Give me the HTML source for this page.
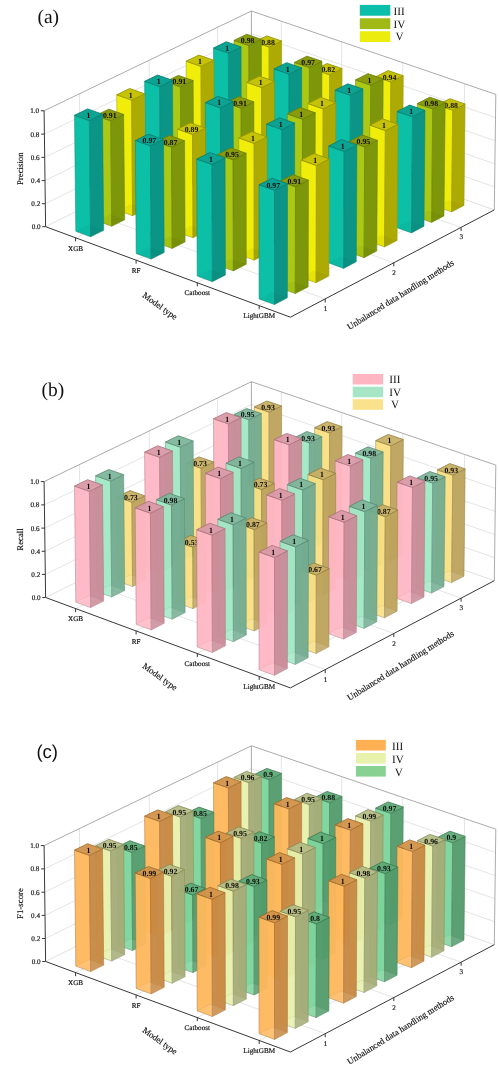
<!DOCTYPE html><html><head><meta charset="utf-8"><title>Figure</title><style>
html,body{margin:0;padding:0;background:#fff}
svg{display:block;will-change:transform}
text{font-family:"Liberation Serif","Times New Roman",serif;fill:#111;text-rendering:geometricPrecision}
.t{font-size:7.15px;stroke:#111;stroke-width:0.18px}.v{font-size:7.8px;font-weight:bold;fill:#0a0a0a}.a{font-size:8.8px;stroke:#111;stroke-width:0.15px}.g{font-size:19.5px;fill:#111}.l{font-size:11.2px}.g2{font-family:"Liberation Sans",Arial,sans-serif;font-size:18.5px;fill:#111}
</style></head><body>
<svg width="498" height="1080" viewBox="0 0 498 1080">
<g id="p0">
<line x1="45.3" y1="203.7" x2="251.5" y2="101.9" stroke="#d8d8d8" stroke-width="0.7"/>
<line x1="251.5" y1="101.9" x2="494.6" y2="186.9" stroke="#d8d8d8" stroke-width="0.7"/>
<line x1="45.0" y1="180.6" x2="251.4" y2="79.2" stroke="#d8d8d8" stroke-width="0.7"/>
<line x1="251.4" y1="79.2" x2="494.9" y2="163.9" stroke="#d8d8d8" stroke-width="0.7"/>
<line x1="44.7" y1="157.4" x2="251.4" y2="56.6" stroke="#d8d8d8" stroke-width="0.7"/>
<line x1="251.4" y1="56.6" x2="495.2" y2="140.8" stroke="#d8d8d8" stroke-width="0.7"/>
<line x1="44.4" y1="134.1" x2="251.4" y2="33.8" stroke="#d8d8d8" stroke-width="0.7"/>
<line x1="251.4" y1="33.8" x2="495.5" y2="117.6" stroke="#d8d8d8" stroke-width="0.7"/>
<line x1="80.7" y1="209.3" x2="79.4" y2="93.8" stroke="#d8d8d8" stroke-width="0.7"/>
<line x1="80.7" y1="209.3" x2="325.2" y2="298.9" stroke="#d8d8d8" stroke-width="0.7"/>
<line x1="150.0" y1="174.9" x2="149.2" y2="60.2" stroke="#d8d8d8" stroke-width="0.7"/>
<line x1="150.0" y1="174.9" x2="393.8" y2="262.8" stroke="#d8d8d8" stroke-width="0.7"/>
<line x1="218.0" y1="141.1" x2="217.6" y2="27.3" stroke="#d8d8d8" stroke-width="0.7"/>
<line x1="218.0" y1="141.1" x2="461.1" y2="227.4" stroke="#d8d8d8" stroke-width="0.7"/>
<line x1="281.2" y1="134.9" x2="281.3" y2="21.2" stroke="#d8d8d8" stroke-width="0.7"/>
<line x1="75.6" y1="237.8" x2="281.2" y2="134.9" stroke="#d8d8d8" stroke-width="0.7"/>
<line x1="341.2" y1="156.0" x2="341.7" y2="41.8" stroke="#d8d8d8" stroke-width="0.7"/>
<line x1="136.1" y1="260.1" x2="341.2" y2="156.0" stroke="#d8d8d8" stroke-width="0.7"/>
<line x1="401.9" y1="177.4" x2="402.8" y2="62.7" stroke="#d8d8d8" stroke-width="0.7"/>
<line x1="197.3" y1="282.7" x2="401.9" y2="177.4" stroke="#d8d8d8" stroke-width="0.7"/>
<line x1="463.3" y1="199.0" x2="464.6" y2="83.7" stroke="#d8d8d8" stroke-width="0.7"/>
<line x1="259.2" y1="305.6" x2="463.3" y2="199.0" stroke="#d8d8d8" stroke-width="0.7"/>
<line x1="45.6" y1="226.7" x2="251.5" y2="124.4" stroke="#d8d8d8" stroke-width="0.8"/>
<line x1="251.5" y1="124.4" x2="494.3" y2="209.9" stroke="#d8d8d8" stroke-width="0.8"/>
<line x1="44.1" y1="110.8" x2="251.4" y2="11.0" stroke="#a2a2a2" stroke-width="0.9"/>
<line x1="251.4" y1="11.0" x2="495.8" y2="94.4" stroke="#a2a2a2" stroke-width="0.9"/>
<line x1="251.5" y1="124.4" x2="251.4" y2="11.0" stroke="#a2a2a2" stroke-width="0.9"/>
<line x1="494.3" y1="209.9" x2="495.8" y2="94.4" stroke="#a2a2a2" stroke-width="0.9"/>
<polyline points="44.1,110.8 45.6,226.7 290.4,317.2 494.3,209.9" fill="none" stroke="#383838" stroke-width="1.0" stroke-linejoin="miter"/>
<line x1="42.3" y1="226.7" x2="45.6" y2="226.7" stroke="#383838" stroke-width="1.0"/>
<text x="40.6" y="229.1" text-anchor="end" class="t">0.0</text>
<line x1="42.0" y1="203.7" x2="45.3" y2="203.7" stroke="#383838" stroke-width="1.0"/>
<text x="40.3" y="206.1" text-anchor="end" class="t">0.2</text>
<line x1="41.7" y1="180.6" x2="45.0" y2="180.6" stroke="#383838" stroke-width="1.0"/>
<text x="40.0" y="183.0" text-anchor="end" class="t">0.4</text>
<line x1="41.4" y1="157.4" x2="44.7" y2="157.4" stroke="#383838" stroke-width="1.0"/>
<text x="39.7" y="159.8" text-anchor="end" class="t">0.6</text>
<line x1="41.1" y1="134.1" x2="44.4" y2="134.1" stroke="#383838" stroke-width="1.0"/>
<text x="39.4" y="136.5" text-anchor="end" class="t">0.8</text>
<line x1="40.8" y1="110.8" x2="44.1" y2="110.8" stroke="#383838" stroke-width="1.0"/>
<text x="39.1" y="113.2" text-anchor="end" class="t">1.0</text>
<line x1="75.6" y1="237.8" x2="75.6" y2="241.4" stroke="#383838" stroke-width="1.0"/>
<text x="75.6" y="250.5" text-anchor="middle" class="t">XGB</text>
<line x1="136.1" y1="260.1" x2="136.1" y2="263.7" stroke="#383838" stroke-width="1.0"/>
<text x="136.1" y="272.8" text-anchor="middle" class="t">RF</text>
<line x1="197.3" y1="282.7" x2="197.3" y2="286.3" stroke="#383838" stroke-width="1.0"/>
<text x="197.3" y="295.4" text-anchor="middle" class="t">Catboost</text>
<line x1="259.2" y1="305.6" x2="259.2" y2="309.2" stroke="#383838" stroke-width="1.0"/>
<text x="259.2" y="318.3" text-anchor="middle" class="t">LightGBM</text>
<line x1="325.2" y1="298.9" x2="325.2" y2="302.5" stroke="#383838" stroke-width="1.0"/>
<text x="325.5" y="310.9" text-anchor="middle" class="t">1</text>
<line x1="393.8" y1="262.8" x2="393.8" y2="266.4" stroke="#383838" stroke-width="1.0"/>
<text x="394.1" y="274.8" text-anchor="middle" class="t">2</text>
<line x1="461.1" y1="227.4" x2="461.1" y2="231.0" stroke="#383838" stroke-width="1.0"/>
<text x="461.4" y="239.4" text-anchor="middle" class="t">3</text>
<g><polygon points="254.4,142.1 269.1,147.3 269.1,47.1 254.3,42.0" fill="#f1ed0a" stroke="#969404" stroke-width="0.5" stroke-linejoin="round"/><polygon points="269.1,147.3 281.6,141.1 281.6,41.0 269.1,47.1" fill="#adaa04" stroke="#969404" stroke-width="0.5" stroke-linejoin="round"/><polygon points="254.3,42.0 269.1,47.1 281.6,41.0 266.8,35.9" fill="#c6c208" stroke="#969404" stroke-width="0.85" stroke-linejoin="round"/><polygon points="254.4,142.1 269.1,147.3 281.6,141.1 266.8,135.9" fill="#000000" opacity="0.04"/></g>
<text x="268.0" y="44.8" text-anchor="middle" class="v">0.88</text>
<g><polygon points="234.2,152.2 249.0,157.4 248.8,45.5 234.0,40.4" fill="#aac814" stroke="#698008" stroke-width="0.5" stroke-linejoin="round"/><polygon points="249.0,157.4 261.5,151.2 261.4,39.4 248.8,45.5" fill="#7d960a" stroke="#698008" stroke-width="0.5" stroke-linejoin="round"/><polygon points="234.0,40.4 248.8,45.5 261.4,39.4 246.6,34.3" fill="#8a9c0e" stroke="#698008" stroke-width="0.85" stroke-linejoin="round"/><polygon points="234.2,152.2 249.0,157.4 261.5,151.2 246.7,145.9" fill="#000000" opacity="0.04"/></g>
<text x="247.7" y="43.2" text-anchor="middle" class="v">0.98</text>
<g><polygon points="213.9,162.3 228.7,167.6 228.4,53.1 213.5,48.0" fill="#0cc0a8" stroke="#088074" stroke-width="0.5" stroke-linejoin="round"/><polygon points="228.7,167.6 241.3,161.3 241.1,47.0 228.4,53.1" fill="#0b9587" stroke="#088074" stroke-width="0.5" stroke-linejoin="round"/><polygon points="213.5,48.0 228.4,53.1 241.1,47.0 226.2,41.8" fill="#0ca393" stroke="#088074" stroke-width="0.85" stroke-linejoin="round"/><polygon points="213.9,162.3 228.7,167.6 241.3,161.3 226.5,156.0" fill="#000000" opacity="0.04"/></g>
<text x="227.3" y="50.8" text-anchor="middle" class="v">1</text>
<g><polygon points="186.7,175.9 201.5,181.2 201.0,66.4 186.1,61.2" fill="#f1ed0a" stroke="#969404" stroke-width="0.5" stroke-linejoin="round"/><polygon points="201.5,181.2 214.2,174.9 213.8,60.2 201.0,66.4" fill="#adaa04" stroke="#969404" stroke-width="0.5" stroke-linejoin="round"/><polygon points="186.1,61.2 201.0,66.4 213.8,60.2 198.9,55.1" fill="#c6c208" stroke="#969404" stroke-width="0.85" stroke-linejoin="round"/><polygon points="186.7,175.9 201.5,181.2 214.2,174.9 199.4,169.6" fill="#000000" opacity="0.04"/></g>
<text x="200.0" y="64.0" text-anchor="middle" class="v">1</text>
<g><polygon points="166.2,186.2 181.0,191.5 180.4,86.9 165.5,81.7" fill="#aac814" stroke="#698008" stroke-width="0.5" stroke-linejoin="round"/><polygon points="181.0,191.5 193.7,185.1 193.2,80.6 180.4,86.9" fill="#7d960a" stroke="#698008" stroke-width="0.5" stroke-linejoin="round"/><polygon points="165.5,81.7 180.4,86.9 193.2,80.6 178.3,75.4" fill="#8a9c0e" stroke="#698008" stroke-width="0.85" stroke-linejoin="round"/><polygon points="166.2,186.2 181.0,191.5 193.7,185.1 178.9,179.8" fill="#000000" opacity="0.04"/></g>
<text x="179.4" y="84.4" text-anchor="middle" class="v">0.91</text>
<g><polygon points="145.5,196.5 160.3,201.9 159.6,86.6 144.6,81.3" fill="#0cc0a8" stroke="#088074" stroke-width="0.5" stroke-linejoin="round"/><polygon points="160.3,201.9 173.1,195.5 172.5,80.3 159.6,86.6" fill="#0b9587" stroke="#088074" stroke-width="0.5" stroke-linejoin="round"/><polygon points="144.6,81.3 159.6,86.6 172.5,80.3 157.6,75.1" fill="#0ca393" stroke="#088074" stroke-width="0.85" stroke-linejoin="round"/><polygon points="145.5,196.5 160.3,201.9 173.1,195.5 158.3,190.1" fill="#000000" opacity="0.04"/></g>
<text x="158.6" y="84.1" text-anchor="middle" class="v">1</text>
<g><polygon points="117.8,210.4 132.6,215.8 131.6,100.1 116.7,94.8" fill="#f1ed0a" stroke="#969404" stroke-width="0.5" stroke-linejoin="round"/><polygon points="132.6,215.8 145.5,209.3 144.6,93.8 131.6,100.1" fill="#adaa04" stroke="#969404" stroke-width="0.5" stroke-linejoin="round"/><polygon points="116.7,94.8 131.6,100.1 144.6,93.8 129.7,88.5" fill="#c6c208" stroke="#969404" stroke-width="0.85" stroke-linejoin="round"/><polygon points="117.8,210.4 132.6,215.8 145.5,209.3 130.7,203.9" fill="#000000" opacity="0.04"/></g>
<text x="130.7" y="97.6" text-anchor="middle" class="v">1</text>
<g><polygon points="96.8,220.8 111.7,226.3 110.7,120.8 95.8,115.5" fill="#aac814" stroke="#698008" stroke-width="0.5" stroke-linejoin="round"/><polygon points="111.7,226.3 124.7,219.8 123.7,114.5 110.7,120.8" fill="#7d960a" stroke="#698008" stroke-width="0.5" stroke-linejoin="round"/><polygon points="95.8,115.5 110.7,120.8 123.7,114.5 108.8,109.2" fill="#8a9c0e" stroke="#698008" stroke-width="0.85" stroke-linejoin="round"/><polygon points="96.8,220.8 111.7,226.3 124.7,219.8 109.8,214.3" fill="#000000" opacity="0.04"/></g>
<text x="109.8" y="118.3" text-anchor="middle" class="v">0.91</text>
<g><polygon points="75.8,231.3 90.6,236.8 89.4,120.6 74.5,115.3" fill="#0cc0a8" stroke="#088074" stroke-width="0.5" stroke-linejoin="round"/><polygon points="90.6,236.8 103.7,230.3 102.5,114.2 89.4,120.6" fill="#0b9587" stroke="#088074" stroke-width="0.5" stroke-linejoin="round"/><polygon points="74.5,115.3 89.4,120.6 102.5,114.2 87.6,108.9" fill="#0ca393" stroke="#088074" stroke-width="0.85" stroke-linejoin="round"/><polygon points="75.8,231.3 90.6,236.8 103.7,230.3 88.9,224.8" fill="#000000" opacity="0.04"/></g>
<text x="88.5" y="118.1" text-anchor="middle" class="v">1</text>
<g><polygon points="314.3,163.3 329.2,168.6 329.6,74.8 314.6,69.6" fill="#f1ed0a" stroke="#969404" stroke-width="0.5" stroke-linejoin="round"/><polygon points="329.2,168.6 341.7,162.3 342.1,68.6 329.6,74.8" fill="#adaa04" stroke="#969404" stroke-width="0.5" stroke-linejoin="round"/><polygon points="314.6,69.6 329.6,74.8 342.1,68.6 327.1,63.5" fill="#c6c208" stroke="#969404" stroke-width="0.85" stroke-linejoin="round"/><polygon points="314.3,163.3 329.2,168.6 341.7,162.3 326.7,157.0" fill="#000000" opacity="0.04"/></g>
<text x="328.3" y="72.4" text-anchor="middle" class="v">0.82</text>
<g><polygon points="294.2,173.5 309.1,178.8 309.4,67.5 294.4,62.4" fill="#aac814" stroke="#698008" stroke-width="0.5" stroke-linejoin="round"/><polygon points="309.1,178.8 321.6,172.5 322.0,61.3 309.4,67.5" fill="#7d960a" stroke="#698008" stroke-width="0.5" stroke-linejoin="round"/><polygon points="294.4,62.4 309.4,67.5 322.0,61.3 306.9,56.2" fill="#8a9c0e" stroke="#698008" stroke-width="0.85" stroke-linejoin="round"/><polygon points="294.2,173.5 309.1,178.8 321.6,172.5 306.7,167.2" fill="#000000" opacity="0.04"/></g>
<text x="308.2" y="65.1" text-anchor="middle" class="v">0.97</text>
<g><polygon points="274.0,183.8 288.9,189.1 289.0,74.1 274.0,68.9" fill="#0cc0a8" stroke="#088074" stroke-width="0.5" stroke-linejoin="round"/><polygon points="288.9,189.1 301.5,182.7 301.7,67.9 289.0,74.1" fill="#0b9587" stroke="#088074" stroke-width="0.5" stroke-linejoin="round"/><polygon points="274.0,68.9 289.0,74.1 301.7,67.9 286.6,62.7" fill="#0ca393" stroke="#088074" stroke-width="0.85" stroke-linejoin="round"/><polygon points="274.0,183.8 288.9,189.1 301.5,182.7 286.5,177.4" fill="#000000" opacity="0.04"/></g>
<text x="287.8" y="71.7" text-anchor="middle" class="v">1</text>
<g><polygon points="246.8,197.5 261.8,202.9 261.7,87.6 246.7,82.3" fill="#f1ed0a" stroke="#969404" stroke-width="0.5" stroke-linejoin="round"/><polygon points="261.8,202.9 274.4,196.5 274.4,81.3 261.7,87.6" fill="#adaa04" stroke="#969404" stroke-width="0.5" stroke-linejoin="round"/><polygon points="246.7,82.3 261.7,87.6 274.4,81.3 259.4,76.1" fill="#c6c208" stroke="#969404" stroke-width="0.85" stroke-linejoin="round"/><polygon points="246.8,197.5 261.8,202.9 274.4,196.5 259.5,191.1" fill="#000000" opacity="0.04"/></g>
<text x="260.6" y="85.1" text-anchor="middle" class="v">1</text>
<g><polygon points="226.3,207.9 241.3,213.3 241.1,108.2 226.0,102.9" fill="#aac814" stroke="#698008" stroke-width="0.5" stroke-linejoin="round"/><polygon points="241.3,213.3 254.0,206.9 253.9,101.9 241.1,108.2" fill="#7d960a" stroke="#698008" stroke-width="0.5" stroke-linejoin="round"/><polygon points="226.0,102.9 241.1,108.2 253.9,101.9 238.8,96.6" fill="#8a9c0e" stroke="#698008" stroke-width="0.85" stroke-linejoin="round"/><polygon points="226.3,207.9 241.3,213.3 254.0,206.9 239.0,201.5" fill="#000000" opacity="0.04"/></g>
<text x="240.0" y="105.7" text-anchor="middle" class="v">0.91</text>
<g><polygon points="205.7,218.4 220.7,223.8 220.4,107.9 205.3,102.6" fill="#0cc0a8" stroke="#088074" stroke-width="0.5" stroke-linejoin="round"/><polygon points="220.7,223.8 233.5,217.3 233.2,101.6 220.4,107.9" fill="#0b9587" stroke="#088074" stroke-width="0.5" stroke-linejoin="round"/><polygon points="205.3,102.6 220.4,107.9 233.2,101.6 218.1,96.3" fill="#0ca393" stroke="#088074" stroke-width="0.85" stroke-linejoin="round"/><polygon points="205.7,218.4 220.7,223.8 233.5,217.3 218.5,211.9" fill="#000000" opacity="0.04"/></g>
<text x="219.2" y="105.4" text-anchor="middle" class="v">1</text>
<g><polygon points="178.0,232.4 193.0,237.8 192.6,134.5 177.5,129.2" fill="#f1ed0a" stroke="#969404" stroke-width="0.5" stroke-linejoin="round"/><polygon points="193.0,237.8 205.9,231.3 205.5,128.1 192.6,134.5" fill="#adaa04" stroke="#969404" stroke-width="0.5" stroke-linejoin="round"/><polygon points="177.5,129.2 192.6,134.5 205.5,128.1 190.4,122.8" fill="#c6c208" stroke="#969404" stroke-width="0.85" stroke-linejoin="round"/><polygon points="178.0,232.4 193.0,237.8 205.9,231.3 190.9,225.8" fill="#000000" opacity="0.04"/></g>
<text x="191.5" y="131.9" text-anchor="middle" class="v">0.89</text>
<g><polygon points="157.2,243.0 172.2,248.5 171.6,147.2 156.5,141.8" fill="#aac814" stroke="#698008" stroke-width="0.5" stroke-linejoin="round"/><polygon points="172.2,248.5 185.1,241.9 184.6,140.8 171.6,147.2" fill="#7d960a" stroke="#698008" stroke-width="0.5" stroke-linejoin="round"/><polygon points="156.5,141.8 171.6,147.2 184.6,140.8 169.5,135.4" fill="#8a9c0e" stroke="#698008" stroke-width="0.85" stroke-linejoin="round"/><polygon points="157.2,243.0 172.2,248.5 185.1,241.9 170.1,236.4" fill="#000000" opacity="0.04"/></g>
<text x="170.6" y="144.6" text-anchor="middle" class="v">0.87</text>
<g><polygon points="136.2,253.6 151.2,259.1 150.4,145.9 135.3,140.5" fill="#0cc0a8" stroke="#088074" stroke-width="0.5" stroke-linejoin="round"/><polygon points="151.2,259.1 164.2,252.5 163.5,139.5 150.4,145.9" fill="#0b9587" stroke="#088074" stroke-width="0.5" stroke-linejoin="round"/><polygon points="135.3,140.5 150.4,145.9 163.5,139.5 148.4,134.1" fill="#0ca393" stroke="#088074" stroke-width="0.85" stroke-linejoin="round"/><polygon points="136.2,253.6 151.2,259.1 164.2,252.5 149.2,247.0" fill="#000000" opacity="0.04"/></g>
<text x="149.4" y="143.3" text-anchor="middle" class="v">0.97</text>
<g><polygon points="375.0,184.8 390.1,190.1 390.8,82.0 375.7,76.8" fill="#f1ed0a" stroke="#969404" stroke-width="0.5" stroke-linejoin="round"/><polygon points="390.1,190.1 402.5,183.7 403.3,75.8 390.8,82.0" fill="#adaa04" stroke="#969404" stroke-width="0.5" stroke-linejoin="round"/><polygon points="375.7,76.8 390.8,82.0 403.3,75.8 388.1,70.6" fill="#c6c208" stroke="#969404" stroke-width="0.85" stroke-linejoin="round"/><polygon points="375.0,184.8 390.1,190.1 402.5,183.7 387.4,178.4" fill="#000000" opacity="0.04"/></g>
<text x="389.5" y="79.6" text-anchor="middle" class="v">0.94</text>
<g><polygon points="354.9,195.1 370.0,200.5 370.7,85.2 355.5,79.9" fill="#aac814" stroke="#698008" stroke-width="0.5" stroke-linejoin="round"/><polygon points="370.0,200.5 382.5,194.0 383.2,78.9 370.7,85.2" fill="#7d960a" stroke="#698008" stroke-width="0.5" stroke-linejoin="round"/><polygon points="355.5,79.9 370.7,85.2 383.2,78.9 368.0,73.7" fill="#8a9c0e" stroke="#698008" stroke-width="0.85" stroke-linejoin="round"/><polygon points="354.9,195.1 370.0,200.5 382.5,194.0 367.4,188.7" fill="#000000" opacity="0.04"/></g>
<text x="369.4" y="82.7" text-anchor="middle" class="v">1</text>
<g><polygon points="334.7,205.5 349.8,210.9 350.4,95.3 335.2,90.1" fill="#0cc0a8" stroke="#088074" stroke-width="0.5" stroke-linejoin="round"/><polygon points="349.8,210.9 362.4,204.4 363.0,89.0 350.4,95.3" fill="#0b9587" stroke="#088074" stroke-width="0.5" stroke-linejoin="round"/><polygon points="335.2,90.1 350.4,95.3 363.0,89.0 347.8,83.8" fill="#0ca393" stroke="#088074" stroke-width="0.85" stroke-linejoin="round"/><polygon points="334.7,205.5 349.8,210.9 362.4,204.4 347.3,199.0" fill="#000000" opacity="0.04"/></g>
<text x="349.1" y="92.8" text-anchor="middle" class="v">1</text>
<g><polygon points="307.6,219.4 322.8,224.8 323.1,108.9 307.9,103.6" fill="#f1ed0a" stroke="#969404" stroke-width="0.5" stroke-linejoin="round"/><polygon points="322.8,224.8 335.4,218.3 335.8,102.6 323.1,108.9" fill="#adaa04" stroke="#969404" stroke-width="0.5" stroke-linejoin="round"/><polygon points="307.9,103.6 323.1,108.9 335.8,102.6 320.6,97.3" fill="#c6c208" stroke="#969404" stroke-width="0.85" stroke-linejoin="round"/><polygon points="307.6,219.4 322.8,224.8 335.4,218.3 320.3,212.9" fill="#000000" opacity="0.04"/></g>
<text x="321.9" y="106.4" text-anchor="middle" class="v">1</text>
<g><polygon points="287.2,229.9 302.3,235.4 302.6,119.2 287.3,113.9" fill="#aac814" stroke="#698008" stroke-width="0.5" stroke-linejoin="round"/><polygon points="302.3,235.4 315.0,228.8 315.3,112.8 302.6,119.2" fill="#7d960a" stroke="#698008" stroke-width="0.5" stroke-linejoin="round"/><polygon points="287.3,113.9 302.6,119.2 315.3,112.8 300.1,107.5" fill="#8a9c0e" stroke="#698008" stroke-width="0.85" stroke-linejoin="round"/><polygon points="287.2,229.9 302.3,235.4 315.0,228.8 299.9,223.4" fill="#000000" opacity="0.04"/></g>
<text x="301.3" y="116.7" text-anchor="middle" class="v">1</text>
<g><polygon points="266.6,240.5 281.8,246.0 281.9,129.6 266.6,124.2" fill="#0cc0a8" stroke="#088074" stroke-width="0.5" stroke-linejoin="round"/><polygon points="281.8,246.0 294.5,239.4 294.7,123.1 281.9,129.6" fill="#0b9587" stroke="#088074" stroke-width="0.5" stroke-linejoin="round"/><polygon points="266.6,124.2 281.9,129.6 294.7,123.1 279.5,117.8" fill="#0ca393" stroke="#088074" stroke-width="0.85" stroke-linejoin="round"/><polygon points="266.6,240.5 281.8,246.0 294.5,239.4 279.4,233.9" fill="#000000" opacity="0.04"/></g>
<text x="280.7" y="127.0" text-anchor="middle" class="v">1</text>
<g><polygon points="239.0,254.6 254.2,260.2 254.1,143.4 238.8,138.0" fill="#f1ed0a" stroke="#969404" stroke-width="0.5" stroke-linejoin="round"/><polygon points="254.2,260.2 267.1,253.6 267.0,137.0 254.1,143.4" fill="#adaa04" stroke="#969404" stroke-width="0.5" stroke-linejoin="round"/><polygon points="238.8,138.0 254.1,143.4 267.0,137.0 251.8,131.6" fill="#c6c208" stroke="#969404" stroke-width="0.85" stroke-linejoin="round"/><polygon points="239.0,254.6 254.2,260.2 267.1,253.6 251.9,248.0" fill="#000000" opacity="0.04"/></g>
<text x="252.9" y="140.8" text-anchor="middle" class="v">1</text>
<g><polygon points="218.2,265.3 233.4,270.9 233.1,159.8 217.9,154.4" fill="#aac814" stroke="#698008" stroke-width="0.5" stroke-linejoin="round"/><polygon points="233.4,270.9 246.3,264.3 246.2,153.3 233.1,159.8" fill="#7d960a" stroke="#698008" stroke-width="0.5" stroke-linejoin="round"/><polygon points="217.9,154.4 233.1,159.8 246.2,153.3 230.9,147.9" fill="#8a9c0e" stroke="#698008" stroke-width="0.85" stroke-linejoin="round"/><polygon points="218.2,265.3 233.4,270.9 246.3,264.3 231.1,258.7" fill="#000000" opacity="0.04"/></g>
<text x="232.0" y="157.1" text-anchor="middle" class="v">0.95</text>
<g><polygon points="197.2,276.1 212.4,281.7 212.0,164.5 196.7,159.0" fill="#0cc0a8" stroke="#088074" stroke-width="0.5" stroke-linejoin="round"/><polygon points="212.4,281.7 225.4,275.0 225.1,157.9 212.0,164.5" fill="#0b9587" stroke="#088074" stroke-width="0.5" stroke-linejoin="round"/><polygon points="196.7,159.0 212.0,164.5 225.1,157.9 209.8,152.5" fill="#0ca393" stroke="#088074" stroke-width="0.85" stroke-linejoin="round"/><polygon points="197.2,276.1 212.4,281.7 225.4,275.0 210.3,269.4" fill="#000000" opacity="0.04"/></g>
<text x="210.9" y="161.8" text-anchor="middle" class="v">1</text>
<g><polygon points="436.4,206.5 451.6,211.9 452.7,110.3 437.3,105.0" fill="#f1ed0a" stroke="#969404" stroke-width="0.5" stroke-linejoin="round"/><polygon points="451.6,211.9 464.0,205.4 465.1,104.0 452.7,110.3" fill="#adaa04" stroke="#969404" stroke-width="0.5" stroke-linejoin="round"/><polygon points="437.3,105.0 452.7,110.3 465.1,104.0 449.8,98.7" fill="#c6c208" stroke="#969404" stroke-width="0.85" stroke-linejoin="round"/><polygon points="436.4,206.5 451.6,211.9 464.0,205.4 448.7,200.0" fill="#000000" opacity="0.04"/></g>
<text x="451.2" y="107.8" text-anchor="middle" class="v">0.88</text>
<g><polygon points="416.3,216.9 431.6,222.4 432.7,108.9 417.3,103.6" fill="#aac814" stroke="#698008" stroke-width="0.5" stroke-linejoin="round"/><polygon points="431.6,222.4 444.0,215.9 445.2,102.5 432.7,108.9" fill="#7d960a" stroke="#698008" stroke-width="0.5" stroke-linejoin="round"/><polygon points="417.3,103.6 432.7,108.9 445.2,102.5 429.8,97.2" fill="#8a9c0e" stroke="#698008" stroke-width="0.85" stroke-linejoin="round"/><polygon points="416.3,216.9 431.6,222.4 444.0,215.9 428.8,210.4" fill="#000000" opacity="0.04"/></g>
<text x="431.3" y="106.3" text-anchor="middle" class="v">0.98</text>
<g><polygon points="396.2,227.4 411.5,232.9 412.5,116.8 397.1,111.5" fill="#0cc0a8" stroke="#088074" stroke-width="0.5" stroke-linejoin="round"/><polygon points="411.5,232.9 424.0,226.3 425.0,110.4 412.5,116.8" fill="#0b9587" stroke="#088074" stroke-width="0.5" stroke-linejoin="round"/><polygon points="397.1,111.5 412.5,116.8 425.0,110.4 409.6,105.1" fill="#0ca393" stroke="#088074" stroke-width="0.85" stroke-linejoin="round"/><polygon points="396.2,227.4 411.5,232.9 424.0,226.3 408.7,220.9" fill="#000000" opacity="0.04"/></g>
<text x="411.1" y="114.2" text-anchor="middle" class="v">1</text>
<g><polygon points="369.2,241.5 384.5,247.0 385.3,130.6 369.9,125.2" fill="#f1ed0a" stroke="#969404" stroke-width="0.5" stroke-linejoin="round"/><polygon points="384.5,247.0 397.1,240.4 398.0,124.2 385.3,130.6" fill="#adaa04" stroke="#969404" stroke-width="0.5" stroke-linejoin="round"/><polygon points="369.9,125.2 385.3,130.6 398.0,124.2 382.5,118.8" fill="#c6c208" stroke="#969404" stroke-width="0.85" stroke-linejoin="round"/><polygon points="369.2,241.5 384.5,247.0 397.1,240.4 381.8,234.9" fill="#000000" opacity="0.04"/></g>
<text x="383.9" y="128.0" text-anchor="middle" class="v">1</text>
<g><polygon points="348.8,252.1 364.1,257.7 364.7,146.9 349.3,141.5" fill="#aac814" stroke="#698008" stroke-width="0.5" stroke-linejoin="round"/><polygon points="364.1,257.7 376.8,251.0 377.5,140.4 364.7,146.9" fill="#7d960a" stroke="#698008" stroke-width="0.5" stroke-linejoin="round"/><polygon points="349.3,141.5 364.7,146.9 377.5,140.4 362.1,135.0" fill="#8a9c0e" stroke="#698008" stroke-width="0.85" stroke-linejoin="round"/><polygon points="348.8,252.1 364.1,257.7 376.8,251.0 361.5,245.5" fill="#000000" opacity="0.04"/></g>
<text x="363.4" y="144.2" text-anchor="middle" class="v">0.95</text>
<g><polygon points="328.3,262.8 343.6,268.4 344.1,151.4 328.7,146.0" fill="#0cc0a8" stroke="#088074" stroke-width="0.5" stroke-linejoin="round"/><polygon points="343.6,268.4 356.3,261.7 356.9,145.0 344.1,151.4" fill="#0b9587" stroke="#088074" stroke-width="0.5" stroke-linejoin="round"/><polygon points="328.7,146.0 344.1,151.4 356.9,145.0 341.5,139.5" fill="#0ca393" stroke="#088074" stroke-width="0.85" stroke-linejoin="round"/><polygon points="328.3,262.8 343.6,268.4 356.3,261.7 341.0,256.2" fill="#000000" opacity="0.04"/></g>
<text x="342.8" y="148.8" text-anchor="middle" class="v">1</text>
<g><polygon points="300.8,277.2 316.1,282.8 316.4,165.5 301.0,160.0" fill="#f1ed0a" stroke="#969404" stroke-width="0.5" stroke-linejoin="round"/><polygon points="316.1,282.8 328.9,276.1 329.3,159.0 316.4,165.5" fill="#adaa04" stroke="#969404" stroke-width="0.5" stroke-linejoin="round"/><polygon points="301.0,160.0 316.4,165.5 329.3,159.0 313.9,153.5" fill="#c6c208" stroke="#969404" stroke-width="0.85" stroke-linejoin="round"/><polygon points="300.8,277.2 316.1,282.8 328.9,276.1 313.6,270.5" fill="#000000" opacity="0.04"/></g>
<text x="315.2" y="162.8" text-anchor="middle" class="v">1</text>
<g><polygon points="280.0,288.0 295.3,293.6 295.5,186.7 280.0,181.2" fill="#aac814" stroke="#698008" stroke-width="0.5" stroke-linejoin="round"/><polygon points="295.3,293.6 308.2,286.9 308.5,180.2 295.5,186.7" fill="#7d960a" stroke="#698008" stroke-width="0.5" stroke-linejoin="round"/><polygon points="280.0,181.2 295.5,186.7 308.5,180.2 293.0,174.7" fill="#8a9c0e" stroke="#698008" stroke-width="0.85" stroke-linejoin="round"/><polygon points="280.0,288.0 295.3,293.6 308.2,286.9 292.9,281.3" fill="#000000" opacity="0.04"/></g>
<text x="294.3" y="184.0" text-anchor="middle" class="v">0.91</text>
<g><polygon points="259.1,298.9 274.5,304.6 274.5,190.3 259.0,184.8" fill="#0cc0a8" stroke="#088074" stroke-width="0.5" stroke-linejoin="round"/><polygon points="274.5,304.6 287.4,297.8 287.5,183.7 274.5,190.3" fill="#0b9587" stroke="#088074" stroke-width="0.5" stroke-linejoin="round"/><polygon points="259.0,184.8 274.5,190.3 287.5,183.7 272.1,178.2" fill="#0ca393" stroke="#088074" stroke-width="0.85" stroke-linejoin="round"/><polygon points="259.1,298.9 274.5,304.6 287.4,297.8 272.0,292.1" fill="#000000" opacity="0.04"/></g>
<text x="273.3" y="187.5" text-anchor="middle" class="v">0.97</text>
<text transform="translate(22.8,168.7) rotate(-90)" text-anchor="middle" class="a">Precision</text>
<text transform="translate(158.3,308.3) rotate(35.5)" text-anchor="middle" class="a">Model type</text>
<text transform="translate(402.1,297.2) rotate(-32)" text-anchor="middle" class="a">Unbalanced data handling methods</text>
<text x="37.4" y="22.9" class="g">(a)</text>
<rect x="359.8" y="4.9" width="30.5" height="10.8" fill="#0abeaa"/>
<text x="393.5" y="15.2" class="l">III</text>
<rect x="359.8" y="18.3" width="30.5" height="10.8" fill="#a0b914"/>
<text x="393.5" y="27.7" class="l">IV</text>
<rect x="359.8" y="31.2" width="30.5" height="10.8" fill="#ecec0f"/>
<text x="395.6" y="40.3" class="l">V</text>
</g>
<g id="p1">
<line x1="45.3" y1="574.4" x2="251.5" y2="472.6" stroke="#d8d8d8" stroke-width="0.7"/>
<line x1="251.5" y1="472.6" x2="494.6" y2="557.7" stroke="#d8d8d8" stroke-width="0.7"/>
<line x1="45.0" y1="551.3" x2="251.4" y2="450.0" stroke="#d8d8d8" stroke-width="0.7"/>
<line x1="251.4" y1="450.0" x2="494.9" y2="534.6" stroke="#d8d8d8" stroke-width="0.7"/>
<line x1="44.7" y1="528.1" x2="251.4" y2="427.3" stroke="#d8d8d8" stroke-width="0.7"/>
<line x1="251.4" y1="427.3" x2="495.2" y2="511.5" stroke="#d8d8d8" stroke-width="0.7"/>
<line x1="44.4" y1="504.9" x2="251.4" y2="404.6" stroke="#d8d8d8" stroke-width="0.7"/>
<line x1="251.4" y1="404.6" x2="495.5" y2="488.4" stroke="#d8d8d8" stroke-width="0.7"/>
<line x1="80.7" y1="580.0" x2="79.4" y2="464.5" stroke="#d8d8d8" stroke-width="0.7"/>
<line x1="80.7" y1="580.0" x2="325.2" y2="669.6" stroke="#d8d8d8" stroke-width="0.7"/>
<line x1="150.0" y1="545.6" x2="149.2" y2="431.0" stroke="#d8d8d8" stroke-width="0.7"/>
<line x1="150.0" y1="545.6" x2="393.8" y2="633.5" stroke="#d8d8d8" stroke-width="0.7"/>
<line x1="218.0" y1="511.8" x2="217.6" y2="398.0" stroke="#d8d8d8" stroke-width="0.7"/>
<line x1="218.0" y1="511.8" x2="461.1" y2="598.1" stroke="#d8d8d8" stroke-width="0.7"/>
<line x1="281.2" y1="505.6" x2="281.3" y2="392.0" stroke="#d8d8d8" stroke-width="0.7"/>
<line x1="75.6" y1="608.6" x2="281.2" y2="505.6" stroke="#d8d8d8" stroke-width="0.7"/>
<line x1="341.2" y1="526.8" x2="341.7" y2="412.6" stroke="#d8d8d8" stroke-width="0.7"/>
<line x1="136.1" y1="630.9" x2="341.2" y2="526.8" stroke="#d8d8d8" stroke-width="0.7"/>
<line x1="401.9" y1="548.1" x2="402.8" y2="433.4" stroke="#d8d8d8" stroke-width="0.7"/>
<line x1="197.3" y1="653.5" x2="401.9" y2="548.1" stroke="#d8d8d8" stroke-width="0.7"/>
<line x1="463.3" y1="569.8" x2="464.6" y2="454.5" stroke="#d8d8d8" stroke-width="0.7"/>
<line x1="259.2" y1="676.4" x2="463.3" y2="569.8" stroke="#d8d8d8" stroke-width="0.7"/>
<line x1="45.6" y1="597.5" x2="251.5" y2="495.2" stroke="#d8d8d8" stroke-width="0.8"/>
<line x1="251.5" y1="495.2" x2="494.3" y2="580.7" stroke="#d8d8d8" stroke-width="0.8"/>
<line x1="44.1" y1="481.6" x2="251.4" y2="381.7" stroke="#a2a2a2" stroke-width="0.9"/>
<line x1="251.4" y1="381.7" x2="495.8" y2="465.1" stroke="#a2a2a2" stroke-width="0.9"/>
<line x1="251.5" y1="495.2" x2="251.4" y2="381.7" stroke="#a2a2a2" stroke-width="0.9"/>
<line x1="494.3" y1="580.7" x2="495.8" y2="465.1" stroke="#a2a2a2" stroke-width="0.9"/>
<polyline points="44.1,481.6 45.6,597.5 290.4,687.9 494.3,580.7" fill="none" stroke="#383838" stroke-width="1.0" stroke-linejoin="miter"/>
<line x1="42.3" y1="597.5" x2="45.6" y2="597.5" stroke="#383838" stroke-width="1.0"/>
<text x="40.6" y="599.9" text-anchor="end" class="t">0.0</text>
<line x1="42.0" y1="574.4" x2="45.3" y2="574.4" stroke="#383838" stroke-width="1.0"/>
<text x="40.3" y="576.8" text-anchor="end" class="t">0.2</text>
<line x1="41.7" y1="551.3" x2="45.0" y2="551.3" stroke="#383838" stroke-width="1.0"/>
<text x="40.0" y="553.7" text-anchor="end" class="t">0.4</text>
<line x1="41.4" y1="528.1" x2="44.7" y2="528.1" stroke="#383838" stroke-width="1.0"/>
<text x="39.7" y="530.5" text-anchor="end" class="t">0.6</text>
<line x1="41.1" y1="504.9" x2="44.4" y2="504.9" stroke="#383838" stroke-width="1.0"/>
<text x="39.4" y="507.3" text-anchor="end" class="t">0.8</text>
<line x1="40.8" y1="481.6" x2="44.1" y2="481.6" stroke="#383838" stroke-width="1.0"/>
<text x="39.1" y="484.0" text-anchor="end" class="t">1.0</text>
<line x1="75.6" y1="608.6" x2="75.6" y2="612.2" stroke="#383838" stroke-width="1.0"/>
<text x="75.6" y="621.3" text-anchor="middle" class="t">XGB</text>
<line x1="136.1" y1="630.9" x2="136.1" y2="634.5" stroke="#383838" stroke-width="1.0"/>
<text x="136.1" y="643.6" text-anchor="middle" class="t">RF</text>
<line x1="197.3" y1="653.5" x2="197.3" y2="657.1" stroke="#383838" stroke-width="1.0"/>
<text x="197.3" y="666.2" text-anchor="middle" class="t">Catboost</text>
<line x1="259.2" y1="676.4" x2="259.2" y2="680.0" stroke="#383838" stroke-width="1.0"/>
<text x="259.2" y="689.1" text-anchor="middle" class="t">LightGBM</text>
<line x1="325.2" y1="669.6" x2="325.2" y2="673.2" stroke="#383838" stroke-width="1.0"/>
<text x="325.5" y="681.6" text-anchor="middle" class="t">1</text>
<line x1="393.8" y1="633.5" x2="393.8" y2="637.1" stroke="#383838" stroke-width="1.0"/>
<text x="394.1" y="645.5" text-anchor="middle" class="t">2</text>
<line x1="461.1" y1="598.1" x2="461.1" y2="601.7" stroke="#383838" stroke-width="1.0"/>
<text x="461.4" y="610.1" text-anchor="middle" class="t">3</text>
<g opacity="0.95"><polygon points="254.4,512.9 269.1,518.1 269.1,412.1 254.3,407.0" fill="#fae082" stroke="#937e43" stroke-width="0.5" stroke-linejoin="round"/><polygon points="269.1,518.1 281.6,511.9 281.6,406.0 269.1,412.1" fill="#bda35c" stroke="#937e43" stroke-width="0.5" stroke-linejoin="round"/><polygon points="254.3,407.0 269.1,412.1 281.6,406.0 266.8,401.0" fill="#c9b064" stroke="#937e43" stroke-width="0.85" stroke-linejoin="round"/><polygon points="254.4,512.9 269.1,518.1 281.6,511.9 266.8,506.7" fill="#ffffff" opacity="0.11"/><polyline points="254.4,512.9 266.8,506.7 281.6,511.9" fill="none" stroke="#937e43" stroke-width="0.4" opacity="0.3"/></g>
<text x="268.0" y="409.8" text-anchor="middle" class="v">0.93</text>
<g opacity="0.95"><polygon points="234.2,523.0 249.0,528.2 248.8,419.7 234.0,414.6" fill="#a1e9c5" stroke="#588871" stroke-width="0.5" stroke-linejoin="round"/><polygon points="249.0,528.2 261.5,521.9 261.4,413.6 248.8,419.7" fill="#72ac90" stroke="#588871" stroke-width="0.5" stroke-linejoin="round"/><polygon points="234.0,414.6 248.8,419.7 261.4,413.6 246.6,408.5" fill="#7eb89b" stroke="#588871" stroke-width="0.85" stroke-linejoin="round"/><polygon points="234.2,523.0 249.0,528.2 261.5,521.9 246.7,516.7" fill="#ffffff" opacity="0.11"/><polyline points="234.2,523.0 246.7,516.7 261.5,521.9" fill="none" stroke="#588871" stroke-width="0.4" opacity="0.3"/></g>
<text x="247.7" y="417.4" text-anchor="middle" class="v">0.95</text>
<g opacity="0.95"><polygon points="213.9,533.1 228.7,538.4 228.4,423.9 213.5,418.7" fill="#ffb7c4" stroke="#a86f7b" stroke-width="0.5" stroke-linejoin="round"/><polygon points="228.7,538.4 241.3,532.1 241.1,417.7 228.4,423.9" fill="#ca8b97" stroke="#a86f7b" stroke-width="0.5" stroke-linejoin="round"/><polygon points="213.5,418.7 228.4,423.9 241.1,417.7 226.2,412.6" fill="#da99a6" stroke="#a86f7b" stroke-width="0.85" stroke-linejoin="round"/><polygon points="213.9,533.1 228.7,538.4 241.3,532.1 226.5,526.8" fill="#ffffff" opacity="0.11"/><polyline points="213.9,533.1 226.5,526.8 241.3,532.1" fill="none" stroke="#a86f7b" stroke-width="0.4" opacity="0.3"/></g>
<text x="227.3" y="421.5" text-anchor="middle" class="v">1</text>
<g opacity="0.95"><polygon points="186.7,546.7 201.5,552.0 201.1,468.3 186.3,463.1" fill="#fae082" stroke="#937e43" stroke-width="0.5" stroke-linejoin="round"/><polygon points="201.5,552.0 214.2,545.6 213.9,462.1 201.1,468.3" fill="#bda35c" stroke="#937e43" stroke-width="0.5" stroke-linejoin="round"/><polygon points="186.3,463.1 201.1,468.3 213.9,462.1 199.0,456.9" fill="#c9b064" stroke="#937e43" stroke-width="0.85" stroke-linejoin="round"/><polygon points="186.7,546.7 201.5,552.0 214.2,545.6 199.4,540.3" fill="#ffffff" opacity="0.11"/><polyline points="186.7,546.7 199.4,540.3 214.2,545.6" fill="none" stroke="#937e43" stroke-width="0.4" opacity="0.3"/></g>
<text x="200.1" y="465.9" text-anchor="middle" class="v">0.73</text>
<g opacity="0.95"><polygon points="166.2,556.9 181.0,562.3 180.3,447.2 165.4,442.0" fill="#a1e9c5" stroke="#588871" stroke-width="0.5" stroke-linejoin="round"/><polygon points="181.0,562.3 193.7,555.9 193.2,441.0 180.3,447.2" fill="#72ac90" stroke="#588871" stroke-width="0.5" stroke-linejoin="round"/><polygon points="165.4,442.0 180.3,447.2 193.2,441.0 178.3,435.8" fill="#7eb89b" stroke="#588871" stroke-width="0.85" stroke-linejoin="round"/><polygon points="166.2,556.9 181.0,562.3 193.7,555.9 178.9,550.6" fill="#ffffff" opacity="0.11"/><polyline points="166.2,556.9 178.9,550.6 193.7,555.9" fill="none" stroke="#588871" stroke-width="0.4" opacity="0.3"/></g>
<text x="179.3" y="444.8" text-anchor="middle" class="v">1</text>
<g opacity="0.95"><polygon points="145.5,567.3 160.3,572.6 159.6,457.3 144.6,452.1" fill="#ffb7c4" stroke="#a86f7b" stroke-width="0.5" stroke-linejoin="round"/><polygon points="160.3,572.6 173.1,566.2 172.5,451.0 159.6,457.3" fill="#ca8b97" stroke="#a86f7b" stroke-width="0.5" stroke-linejoin="round"/><polygon points="144.6,452.1 159.6,457.3 172.5,451.0 157.6,445.8" fill="#da99a6" stroke="#a86f7b" stroke-width="0.85" stroke-linejoin="round"/><polygon points="145.5,567.3 160.3,572.6 173.1,566.2 158.3,560.9" fill="#ffffff" opacity="0.11"/><polyline points="145.5,567.3 158.3,560.9 173.1,566.2" fill="none" stroke="#a86f7b" stroke-width="0.4" opacity="0.3"/></g>
<text x="158.6" y="454.9" text-anchor="middle" class="v">1</text>
<g opacity="0.95"><polygon points="117.8,581.1 132.6,586.5 131.9,502.2 117.0,496.9" fill="#fae082" stroke="#937e43" stroke-width="0.5" stroke-linejoin="round"/><polygon points="132.6,586.5 145.5,580.1 144.9,495.9 131.9,502.2" fill="#bda35c" stroke="#937e43" stroke-width="0.5" stroke-linejoin="round"/><polygon points="117.0,496.9 131.9,502.2 144.9,495.9 130.0,490.6" fill="#c9b064" stroke="#937e43" stroke-width="0.85" stroke-linejoin="round"/><polygon points="117.8,581.1 132.6,586.5 145.5,580.1 130.7,574.7" fill="#ffffff" opacity="0.11"/><polyline points="117.8,581.1 130.7,574.7 145.5,580.1" fill="none" stroke="#937e43" stroke-width="0.4" opacity="0.3"/></g>
<text x="130.9" y="499.7" text-anchor="middle" class="v">0.73</text>
<g opacity="0.95"><polygon points="96.8,591.6 111.7,597.0 110.6,481.1 95.6,475.8" fill="#a1e9c5" stroke="#588871" stroke-width="0.5" stroke-linejoin="round"/><polygon points="111.7,597.0 124.7,590.5 123.7,474.7 110.6,481.1" fill="#72ac90" stroke="#588871" stroke-width="0.5" stroke-linejoin="round"/><polygon points="95.6,475.8 110.6,481.1 123.7,474.7 108.7,469.5" fill="#7eb89b" stroke="#588871" stroke-width="0.85" stroke-linejoin="round"/><polygon points="96.8,591.6 111.7,597.0 124.7,590.5 109.8,585.1" fill="#ffffff" opacity="0.11"/><polyline points="96.8,591.6 109.8,585.1 124.7,590.5" fill="none" stroke="#588871" stroke-width="0.4" opacity="0.3"/></g>
<text x="109.7" y="478.6" text-anchor="middle" class="v">1</text>
<g opacity="0.95"><polygon points="75.8,602.1 90.6,607.6 89.4,491.4 74.5,486.0" fill="#ffb7c4" stroke="#a86f7b" stroke-width="0.5" stroke-linejoin="round"/><polygon points="90.6,607.6 103.7,601.0 102.5,485.0 89.4,491.4" fill="#ca8b97" stroke="#a86f7b" stroke-width="0.5" stroke-linejoin="round"/><polygon points="74.5,486.0 89.4,491.4 102.5,485.0 87.6,479.7" fill="#da99a6" stroke="#a86f7b" stroke-width="0.85" stroke-linejoin="round"/><polygon points="75.8,602.1 90.6,607.6 103.7,601.0 88.9,595.6" fill="#ffffff" opacity="0.11"/><polyline points="75.8,602.1 88.9,595.6 103.7,601.0" fill="none" stroke="#a86f7b" stroke-width="0.4" opacity="0.3"/></g>
<text x="88.5" y="488.8" text-anchor="middle" class="v">1</text>
<g opacity="0.95"><polygon points="314.3,534.1 329.2,539.4 329.6,432.9 314.6,427.8" fill="#fae082" stroke="#937e43" stroke-width="0.5" stroke-linejoin="round"/><polygon points="329.2,539.4 341.7,533.0 342.1,426.7 329.6,432.9" fill="#bda35c" stroke="#937e43" stroke-width="0.5" stroke-linejoin="round"/><polygon points="314.6,427.8 329.6,432.9 342.1,426.7 327.1,421.6" fill="#c9b064" stroke="#937e43" stroke-width="0.85" stroke-linejoin="round"/><polygon points="314.3,534.1 329.2,539.4 341.7,533.0 326.7,527.8" fill="#ffffff" opacity="0.11"/><polyline points="314.3,534.1 326.7,527.8 341.7,533.0" fill="none" stroke="#937e43" stroke-width="0.4" opacity="0.3"/></g>
<text x="328.4" y="430.5" text-anchor="middle" class="v">0.93</text>
<g opacity="0.95"><polygon points="294.2,544.3 309.1,549.6 309.4,442.9 294.4,437.7" fill="#a1e9c5" stroke="#588871" stroke-width="0.5" stroke-linejoin="round"/><polygon points="309.1,549.6 321.6,543.2 321.9,436.7 309.4,442.9" fill="#72ac90" stroke="#588871" stroke-width="0.5" stroke-linejoin="round"/><polygon points="294.4,437.7 309.4,442.9 321.9,436.7 306.9,431.5" fill="#7eb89b" stroke="#588871" stroke-width="0.85" stroke-linejoin="round"/><polygon points="294.2,544.3 309.1,549.6 321.6,543.2 306.7,537.9" fill="#ffffff" opacity="0.11"/><polyline points="294.2,544.3 306.7,537.9 321.6,543.2" fill="none" stroke="#588871" stroke-width="0.4" opacity="0.3"/></g>
<text x="308.1" y="440.5" text-anchor="middle" class="v">0.93</text>
<g opacity="0.95"><polygon points="274.0,554.5 288.9,559.9 289.0,444.8 274.0,439.6" fill="#ffb7c4" stroke="#a86f7b" stroke-width="0.5" stroke-linejoin="round"/><polygon points="288.9,559.9 301.5,553.5 301.7,438.6 289.0,444.8" fill="#ca8b97" stroke="#a86f7b" stroke-width="0.5" stroke-linejoin="round"/><polygon points="274.0,439.6 289.0,444.8 301.7,438.6 286.6,433.4" fill="#da99a6" stroke="#a86f7b" stroke-width="0.85" stroke-linejoin="round"/><polygon points="274.0,554.5 288.9,559.9 301.5,553.5 286.5,548.2" fill="#ffffff" opacity="0.11"/><polyline points="274.0,554.5 286.5,548.2 301.5,553.5" fill="none" stroke="#a86f7b" stroke-width="0.4" opacity="0.3"/></g>
<text x="287.8" y="442.4" text-anchor="middle" class="v">1</text>
<g opacity="0.95"><polygon points="246.8,568.3 261.8,573.7 261.7,489.6 246.7,484.3" fill="#fae082" stroke="#937e43" stroke-width="0.5" stroke-linejoin="round"/><polygon points="261.8,573.7 274.4,567.2 274.4,483.3 261.7,489.6" fill="#bda35c" stroke="#937e43" stroke-width="0.5" stroke-linejoin="round"/><polygon points="246.7,484.3 261.7,489.6 274.4,483.3 259.4,478.0" fill="#c9b064" stroke="#937e43" stroke-width="0.85" stroke-linejoin="round"/><polygon points="246.8,568.3 261.8,573.7 274.4,567.2 259.5,561.9" fill="#ffffff" opacity="0.11"/><polyline points="246.8,568.3 259.5,561.9 274.4,567.2" fill="none" stroke="#937e43" stroke-width="0.4" opacity="0.3"/></g>
<text x="260.6" y="487.1" text-anchor="middle" class="v">0.73</text>
<g opacity="0.95"><polygon points="226.3,578.7 241.3,584.1 241.1,468.5 226.0,463.2" fill="#a1e9c5" stroke="#588871" stroke-width="0.5" stroke-linejoin="round"/><polygon points="241.3,584.1 254.0,577.6 253.9,462.2 241.1,468.5" fill="#72ac90" stroke="#588871" stroke-width="0.5" stroke-linejoin="round"/><polygon points="226.0,463.2 241.1,468.5 253.9,462.2 238.8,456.9" fill="#7eb89b" stroke="#588871" stroke-width="0.85" stroke-linejoin="round"/><polygon points="226.3,578.7 241.3,584.1 254.0,577.6 239.0,572.2" fill="#ffffff" opacity="0.11"/><polyline points="226.3,578.7 239.0,572.2 254.0,577.6" fill="none" stroke="#588871" stroke-width="0.4" opacity="0.3"/></g>
<text x="240.0" y="466.0" text-anchor="middle" class="v">1</text>
<g opacity="0.95"><polygon points="205.7,589.1 220.7,594.5 220.4,478.7 205.3,473.4" fill="#ffb7c4" stroke="#a86f7b" stroke-width="0.5" stroke-linejoin="round"/><polygon points="220.7,594.5 233.5,588.0 233.2,472.3 220.4,478.7" fill="#ca8b97" stroke="#a86f7b" stroke-width="0.5" stroke-linejoin="round"/><polygon points="205.3,473.4 220.4,478.7 233.2,472.3 218.1,467.1" fill="#da99a6" stroke="#a86f7b" stroke-width="0.85" stroke-linejoin="round"/><polygon points="205.7,589.1 220.7,594.5 233.5,588.0 218.5,582.6" fill="#ffffff" opacity="0.11"/><polyline points="205.7,589.1 218.5,582.6 233.5,588.0" fill="none" stroke="#a86f7b" stroke-width="0.4" opacity="0.3"/></g>
<text x="219.2" y="476.2" text-anchor="middle" class="v">1</text>
<g opacity="0.95"><polygon points="178.0,603.1 193.0,608.6 192.8,547.2 177.7,541.8" fill="#fae082" stroke="#937e43" stroke-width="0.5" stroke-linejoin="round"/><polygon points="193.0,608.6 205.9,602.1 205.7,540.7 192.8,547.2" fill="#bda35c" stroke="#937e43" stroke-width="0.5" stroke-linejoin="round"/><polygon points="177.7,541.8 192.8,547.2 205.7,540.7 190.6,535.4" fill="#c9b064" stroke="#937e43" stroke-width="0.85" stroke-linejoin="round"/><polygon points="178.0,603.1 193.0,608.6 205.9,602.1 190.9,596.6" fill="#ffffff" opacity="0.11"/><polyline points="178.0,603.1 190.9,596.6 205.9,602.1" fill="none" stroke="#937e43" stroke-width="0.4" opacity="0.3"/></g>
<text x="191.7" y="544.6" text-anchor="middle" class="v">0.53</text>
<g opacity="0.95"><polygon points="157.2,613.7 172.2,619.2 171.5,505.1 156.4,499.7" fill="#a1e9c5" stroke="#588871" stroke-width="0.5" stroke-linejoin="round"/><polygon points="172.2,619.2 185.1,612.6 184.5,498.7 171.5,505.1" fill="#72ac90" stroke="#588871" stroke-width="0.5" stroke-linejoin="round"/><polygon points="156.4,499.7 171.5,505.1 184.5,498.7 169.4,493.3" fill="#7eb89b" stroke="#588871" stroke-width="0.85" stroke-linejoin="round"/><polygon points="157.2,613.7 172.2,619.2 185.1,612.6 170.1,607.1" fill="#ffffff" opacity="0.11"/><polyline points="157.2,613.7 170.1,607.1 185.1,612.6" fill="none" stroke="#588871" stroke-width="0.4" opacity="0.3"/></g>
<text x="170.5" y="502.5" text-anchor="middle" class="v">0.98</text>
<g opacity="0.95"><polygon points="136.2,624.3 151.2,629.9 150.4,513.2 135.2,507.8" fill="#ffb7c4" stroke="#a86f7b" stroke-width="0.5" stroke-linejoin="round"/><polygon points="151.2,629.9 164.2,623.3 163.5,506.7 150.4,513.2" fill="#ca8b97" stroke="#a86f7b" stroke-width="0.5" stroke-linejoin="round"/><polygon points="135.2,507.8 150.4,513.2 163.5,506.7 148.4,501.3" fill="#da99a6" stroke="#a86f7b" stroke-width="0.85" stroke-linejoin="round"/><polygon points="136.2,624.3 151.2,629.9 164.2,623.3 149.2,617.7" fill="#ffffff" opacity="0.11"/><polyline points="136.2,624.3 149.2,617.7 164.2,623.3" fill="none" stroke="#a86f7b" stroke-width="0.4" opacity="0.3"/></g>
<text x="149.4" y="510.5" text-anchor="middle" class="v">1</text>
<g opacity="0.95"><polygon points="375.0,555.5 390.1,560.9 390.9,445.8 375.7,440.6" fill="#fae082" stroke="#937e43" stroke-width="0.5" stroke-linejoin="round"/><polygon points="390.1,560.9 402.5,554.5 403.4,439.6 390.9,445.8" fill="#bda35c" stroke="#937e43" stroke-width="0.5" stroke-linejoin="round"/><polygon points="375.7,440.6 390.9,445.8 403.4,439.6 388.2,434.4" fill="#c9b064" stroke="#937e43" stroke-width="0.85" stroke-linejoin="round"/><polygon points="375.0,555.5 390.1,560.9 402.5,554.5 387.4,549.2" fill="#ffffff" opacity="0.11"/><polyline points="375.0,555.5 387.4,549.2 402.5,554.5" fill="none" stroke="#937e43" stroke-width="0.4" opacity="0.3"/></g>
<text x="389.5" y="443.4" text-anchor="middle" class="v">1</text>
<g opacity="0.95"><polygon points="354.9,565.8 370.0,571.2 370.7,458.2 355.5,453.0" fill="#a1e9c5" stroke="#588871" stroke-width="0.5" stroke-linejoin="round"/><polygon points="370.0,571.2 382.5,564.8 383.2,452.0 370.7,458.2" fill="#72ac90" stroke="#588871" stroke-width="0.5" stroke-linejoin="round"/><polygon points="355.5,453.0 370.7,458.2 383.2,452.0 368.0,446.8" fill="#7eb89b" stroke="#588871" stroke-width="0.85" stroke-linejoin="round"/><polygon points="354.9,565.8 370.0,571.2 382.5,564.8 367.4,559.4" fill="#ffffff" opacity="0.11"/><polyline points="354.9,565.8 367.4,559.4 382.5,564.8" fill="none" stroke="#588871" stroke-width="0.4" opacity="0.3"/></g>
<text x="369.3" y="455.8" text-anchor="middle" class="v">0.98</text>
<g opacity="0.95"><polygon points="334.7,576.2 349.8,581.6 350.4,466.1 335.2,460.8" fill="#ffb7c4" stroke="#a86f7b" stroke-width="0.5" stroke-linejoin="round"/><polygon points="349.8,581.6 362.4,575.2 363.0,459.8 350.4,466.1" fill="#ca8b97" stroke="#a86f7b" stroke-width="0.5" stroke-linejoin="round"/><polygon points="335.2,460.8 350.4,466.1 363.0,459.8 347.8,454.5" fill="#da99a6" stroke="#a86f7b" stroke-width="0.85" stroke-linejoin="round"/><polygon points="334.7,576.2 349.8,581.6 362.4,575.2 347.3,569.8" fill="#ffffff" opacity="0.11"/><polyline points="334.7,576.2 347.3,569.8 362.4,575.2" fill="none" stroke="#a86f7b" stroke-width="0.4" opacity="0.3"/></g>
<text x="349.1" y="463.6" text-anchor="middle" class="v">1</text>
<g opacity="0.95"><polygon points="307.6,590.1 322.8,595.6 323.1,479.7 307.9,474.4" fill="#fae082" stroke="#937e43" stroke-width="0.5" stroke-linejoin="round"/><polygon points="322.8,595.6 335.4,589.1 335.8,473.3 323.1,479.7" fill="#bda35c" stroke="#937e43" stroke-width="0.5" stroke-linejoin="round"/><polygon points="307.9,474.4 323.1,479.7 335.8,473.3 320.6,468.1" fill="#c9b064" stroke="#937e43" stroke-width="0.85" stroke-linejoin="round"/><polygon points="307.6,590.1 322.8,595.6 335.4,589.1 320.3,583.7" fill="#ffffff" opacity="0.11"/><polyline points="307.6,590.1 320.3,583.7 335.4,589.1" fill="none" stroke="#937e43" stroke-width="0.4" opacity="0.3"/></g>
<text x="321.9" y="477.2" text-anchor="middle" class="v">1</text>
<g opacity="0.95"><polygon points="287.2,600.6 302.3,606.1 302.6,490.0 287.3,484.6" fill="#a1e9c5" stroke="#588871" stroke-width="0.5" stroke-linejoin="round"/><polygon points="302.3,606.1 315.0,599.6 315.3,483.6 302.6,490.0" fill="#72ac90" stroke="#588871" stroke-width="0.5" stroke-linejoin="round"/><polygon points="287.3,484.6 302.6,490.0 315.3,483.6 300.1,478.3" fill="#7eb89b" stroke="#588871" stroke-width="0.85" stroke-linejoin="round"/><polygon points="287.2,600.6 302.3,606.1 315.0,599.6 299.9,594.1" fill="#ffffff" opacity="0.11"/><polyline points="287.2,600.6 299.9,594.1 315.0,599.6" fill="none" stroke="#588871" stroke-width="0.4" opacity="0.3"/></g>
<text x="301.3" y="487.4" text-anchor="middle" class="v">1</text>
<g opacity="0.95"><polygon points="266.6,611.2 281.8,616.7 281.9,500.3 266.6,494.9" fill="#ffb7c4" stroke="#a86f7b" stroke-width="0.5" stroke-linejoin="round"/><polygon points="281.8,616.7 294.5,610.1 294.7,493.9 281.9,500.3" fill="#ca8b97" stroke="#a86f7b" stroke-width="0.5" stroke-linejoin="round"/><polygon points="266.6,494.9 281.9,500.3 294.7,493.9 279.5,488.5" fill="#da99a6" stroke="#a86f7b" stroke-width="0.85" stroke-linejoin="round"/><polygon points="266.6,611.2 281.8,616.7 294.5,610.1 279.4,604.7" fill="#ffffff" opacity="0.11"/><polyline points="266.6,611.2 279.4,604.7 294.5,610.1" fill="none" stroke="#a86f7b" stroke-width="0.4" opacity="0.3"/></g>
<text x="280.7" y="497.7" text-anchor="middle" class="v">1</text>
<g opacity="0.95"><polygon points="239.0,625.4 254.2,630.9 254.1,529.5 238.8,524.0" fill="#fae082" stroke="#937e43" stroke-width="0.5" stroke-linejoin="round"/><polygon points="254.2,630.9 267.1,624.3 267.0,523.0 254.1,529.5" fill="#bda35c" stroke="#937e43" stroke-width="0.5" stroke-linejoin="round"/><polygon points="238.8,524.0 254.1,529.5 267.0,523.0 251.8,517.6" fill="#c9b064" stroke="#937e43" stroke-width="0.85" stroke-linejoin="round"/><polygon points="239.0,625.4 254.2,630.9 267.1,624.3 251.9,618.8" fill="#ffffff" opacity="0.11"/><polyline points="239.0,625.4 251.9,618.8 267.1,624.3" fill="none" stroke="#937e43" stroke-width="0.4" opacity="0.3"/></g>
<text x="252.9" y="526.8" text-anchor="middle" class="v">0.87</text>
<g opacity="0.95"><polygon points="218.2,636.1 233.4,641.7 233.1,524.7 217.8,519.2" fill="#a1e9c5" stroke="#588871" stroke-width="0.5" stroke-linejoin="round"/><polygon points="233.4,641.7 246.3,635.0 246.1,518.2 233.1,524.7" fill="#72ac90" stroke="#588871" stroke-width="0.5" stroke-linejoin="round"/><polygon points="217.8,519.2 233.1,524.7 246.1,518.2 230.9,512.7" fill="#7eb89b" stroke="#588871" stroke-width="0.85" stroke-linejoin="round"/><polygon points="218.2,636.1 233.4,641.7 246.3,635.0 231.1,629.5" fill="#ffffff" opacity="0.11"/><polyline points="218.2,636.1 231.1,629.5 246.3,635.0" fill="none" stroke="#588871" stroke-width="0.4" opacity="0.3"/></g>
<text x="232.0" y="522.0" text-anchor="middle" class="v">1</text>
<g opacity="0.95"><polygon points="197.2,646.9 212.4,652.5 212.0,535.2 196.7,529.7" fill="#ffb7c4" stroke="#a86f7b" stroke-width="0.5" stroke-linejoin="round"/><polygon points="212.4,652.5 225.4,645.8 225.1,528.7 212.0,535.2" fill="#ca8b97" stroke="#a86f7b" stroke-width="0.5" stroke-linejoin="round"/><polygon points="196.7,529.7 212.0,535.2 225.1,528.7 209.8,523.2" fill="#da99a6" stroke="#a86f7b" stroke-width="0.85" stroke-linejoin="round"/><polygon points="197.2,646.9 212.4,652.5 225.4,645.8 210.3,640.2" fill="#ffffff" opacity="0.11"/><polyline points="197.2,646.9 210.3,640.2 225.4,645.8" fill="none" stroke="#a86f7b" stroke-width="0.4" opacity="0.3"/></g>
<text x="210.9" y="532.5" text-anchor="middle" class="v">1</text>
<g opacity="0.95"><polygon points="436.4,577.2 451.6,582.6 452.8,475.2 437.4,469.9" fill="#fae082" stroke="#937e43" stroke-width="0.5" stroke-linejoin="round"/><polygon points="451.6,582.6 464.0,576.2 465.2,468.9 452.8,475.2" fill="#bda35c" stroke="#937e43" stroke-width="0.5" stroke-linejoin="round"/><polygon points="437.4,469.9 452.8,475.2 465.2,468.9 449.8,463.6" fill="#c9b064" stroke="#937e43" stroke-width="0.85" stroke-linejoin="round"/><polygon points="436.4,577.2 451.6,582.6 464.0,576.2 448.7,570.8" fill="#ffffff" opacity="0.11"/><polyline points="436.4,577.2 448.7,570.8 464.0,576.2" fill="none" stroke="#937e43" stroke-width="0.4" opacity="0.3"/></g>
<text x="451.3" y="472.7" text-anchor="middle" class="v">0.93</text>
<g opacity="0.95"><polygon points="416.3,587.7 431.6,593.1 432.7,483.1 417.3,477.8" fill="#a1e9c5" stroke="#588871" stroke-width="0.5" stroke-linejoin="round"/><polygon points="431.6,593.1 444.0,586.6 445.2,476.8 432.7,483.1" fill="#72ac90" stroke="#588871" stroke-width="0.5" stroke-linejoin="round"/><polygon points="417.3,477.8 432.7,483.1 445.2,476.8 429.8,471.5" fill="#7eb89b" stroke="#588871" stroke-width="0.85" stroke-linejoin="round"/><polygon points="416.3,587.7 431.6,593.1 444.0,586.6 428.8,581.2" fill="#ffffff" opacity="0.11"/><polyline points="416.3,587.7 428.8,581.2 444.0,586.6" fill="none" stroke="#588871" stroke-width="0.4" opacity="0.3"/></g>
<text x="431.2" y="480.6" text-anchor="middle" class="v">0.95</text>
<g opacity="0.95"><polygon points="396.2,598.2 411.5,603.6 412.5,487.5 397.1,482.2" fill="#ffb7c4" stroke="#a86f7b" stroke-width="0.5" stroke-linejoin="round"/><polygon points="411.5,603.6 424.0,597.1 425.0,481.2 412.5,487.5" fill="#ca8b97" stroke="#a86f7b" stroke-width="0.5" stroke-linejoin="round"/><polygon points="397.1,482.2 412.5,487.5 425.0,481.2 409.6,475.9" fill="#da99a6" stroke="#a86f7b" stroke-width="0.85" stroke-linejoin="round"/><polygon points="396.2,598.2 411.5,603.6 424.0,597.1 408.7,591.7" fill="#ffffff" opacity="0.11"/><polyline points="396.2,598.2 408.7,591.7 424.0,597.1" fill="none" stroke="#a86f7b" stroke-width="0.4" opacity="0.3"/></g>
<text x="411.1" y="485.0" text-anchor="middle" class="v">1</text>
<g opacity="0.95"><polygon points="369.2,612.3 384.5,617.8 385.2,516.6 369.8,511.2" fill="#fae082" stroke="#937e43" stroke-width="0.5" stroke-linejoin="round"/><polygon points="384.5,617.8 397.1,611.2 397.8,510.1 385.2,516.6" fill="#bda35c" stroke="#937e43" stroke-width="0.5" stroke-linejoin="round"/><polygon points="369.8,511.2 385.2,516.6 397.8,510.1 382.4,504.7" fill="#c9b064" stroke="#937e43" stroke-width="0.85" stroke-linejoin="round"/><polygon points="369.2,612.3 384.5,617.8 397.1,611.2 381.8,605.7" fill="#ffffff" opacity="0.11"/><polyline points="369.2,612.3 381.8,605.7 397.1,611.2" fill="none" stroke="#937e43" stroke-width="0.4" opacity="0.3"/></g>
<text x="383.8" y="513.9" text-anchor="middle" class="v">0.87</text>
<g opacity="0.95"><polygon points="348.8,622.9 364.1,628.4 364.8,511.7 349.3,506.3" fill="#a1e9c5" stroke="#588871" stroke-width="0.5" stroke-linejoin="round"/><polygon points="364.1,628.4 376.8,621.8 377.5,505.3 364.8,511.7" fill="#72ac90" stroke="#588871" stroke-width="0.5" stroke-linejoin="round"/><polygon points="349.3,506.3 364.8,511.7 377.5,505.3 362.1,499.9" fill="#7eb89b" stroke="#588871" stroke-width="0.85" stroke-linejoin="round"/><polygon points="348.8,622.9 364.1,628.4 376.8,621.8 361.5,616.3" fill="#ffffff" opacity="0.11"/><polyline points="348.8,622.9 361.5,616.3 376.8,621.8" fill="none" stroke="#588871" stroke-width="0.4" opacity="0.3"/></g>
<text x="363.4" y="509.1" text-anchor="middle" class="v">1</text>
<g opacity="0.95"><polygon points="328.3,633.6 343.6,639.1 344.1,522.2 328.7,516.8" fill="#ffb7c4" stroke="#a86f7b" stroke-width="0.5" stroke-linejoin="round"/><polygon points="343.6,639.1 356.3,632.5 356.9,515.7 344.1,522.2" fill="#ca8b97" stroke="#a86f7b" stroke-width="0.5" stroke-linejoin="round"/><polygon points="328.7,516.8 344.1,522.2 356.9,515.7 341.5,510.3" fill="#da99a6" stroke="#a86f7b" stroke-width="0.85" stroke-linejoin="round"/><polygon points="328.3,633.6 343.6,639.1 356.3,632.5 341.0,626.9" fill="#ffffff" opacity="0.11"/><polyline points="328.3,633.6 341.0,626.9 356.3,632.5" fill="none" stroke="#a86f7b" stroke-width="0.4" opacity="0.3"/></g>
<text x="342.8" y="519.5" text-anchor="middle" class="v">1</text>
<g opacity="0.95"><polygon points="300.8,647.9 316.1,653.5 316.3,575.1 300.9,569.6" fill="#fae082" stroke="#937e43" stroke-width="0.5" stroke-linejoin="round"/><polygon points="316.1,653.5 328.9,646.8 329.2,568.5 316.3,575.1" fill="#bda35c" stroke="#937e43" stroke-width="0.5" stroke-linejoin="round"/><polygon points="300.9,569.6 316.3,575.1 329.2,568.5 313.8,563.0" fill="#c9b064" stroke="#937e43" stroke-width="0.85" stroke-linejoin="round"/><polygon points="300.8,647.9 316.1,653.5 328.9,646.8 313.6,641.2" fill="#ffffff" opacity="0.11"/><polyline points="300.8,647.9 313.6,641.2 328.9,646.8" fill="none" stroke="#937e43" stroke-width="0.4" opacity="0.3"/></g>
<text x="315.1" y="572.4" text-anchor="middle" class="v">0.67</text>
<g opacity="0.95"><polygon points="280.0,658.8 295.3,664.4 295.5,546.9 280.0,541.3" fill="#a1e9c5" stroke="#588871" stroke-width="0.5" stroke-linejoin="round"/><polygon points="295.3,664.4 308.2,657.7 308.5,540.3 295.5,546.9" fill="#72ac90" stroke="#588871" stroke-width="0.5" stroke-linejoin="round"/><polygon points="280.0,541.3 295.5,546.9 308.5,540.3 293.0,534.8" fill="#7eb89b" stroke="#588871" stroke-width="0.85" stroke-linejoin="round"/><polygon points="280.0,658.8 295.3,664.4 308.2,657.7 292.9,652.0" fill="#ffffff" opacity="0.11"/><polyline points="280.0,658.8 292.9,652.0 308.2,657.7" fill="none" stroke="#588871" stroke-width="0.4" opacity="0.3"/></g>
<text x="294.3" y="544.1" text-anchor="middle" class="v">1</text>
<g opacity="0.95"><polygon points="259.1,669.7 274.5,675.3 274.5,557.5 259.0,552.0" fill="#ffb7c4" stroke="#a86f7b" stroke-width="0.5" stroke-linejoin="round"/><polygon points="274.5,675.3 287.4,668.5 287.5,550.9 274.5,557.5" fill="#ca8b97" stroke="#a86f7b" stroke-width="0.5" stroke-linejoin="round"/><polygon points="259.0,552.0 274.5,557.5 287.5,550.9 272.1,545.4" fill="#da99a6" stroke="#a86f7b" stroke-width="0.85" stroke-linejoin="round"/><polygon points="259.1,669.7 274.5,675.3 287.4,668.5 272.0,662.9" fill="#ffffff" opacity="0.11"/><polyline points="259.1,669.7 272.0,662.9 287.4,668.5" fill="none" stroke="#a86f7b" stroke-width="0.4" opacity="0.3"/></g>
<text x="273.3" y="554.7" text-anchor="middle" class="v">1</text>
<text transform="translate(22.8,539.5) rotate(-90)" text-anchor="middle" class="a">Recall</text>
<text transform="translate(158.3,679.0) rotate(35.5)" text-anchor="middle" class="a">Model type</text>
<text transform="translate(402.1,668.0) rotate(-32)" text-anchor="middle" class="a">Unbalanced data handling methods</text>
<text x="41.6" y="395.5" class="g">(b)</text>
<rect x="352.7" y="373.9" width="30.3" height="10.6" fill="#ffb6c3"/>
<text x="389.2" y="383.2" class="l">III</text>
<rect x="352.7" y="386.7" width="30.3" height="10.6" fill="#a6e6c6"/>
<text x="389.2" y="395.7" class="l">IV</text>
<rect x="352.7" y="399.2" width="30.3" height="10.6" fill="#fae18c"/>
<text x="391.0" y="408.3" class="l">V</text>
</g>
<g id="p2">
<line x1="45.3" y1="938.5" x2="251.5" y2="836.7" stroke="#d8d8d8" stroke-width="0.7"/>
<line x1="251.5" y1="836.7" x2="494.6" y2="921.7" stroke="#d8d8d8" stroke-width="0.7"/>
<line x1="45.0" y1="915.4" x2="251.4" y2="814.0" stroke="#d8d8d8" stroke-width="0.7"/>
<line x1="251.4" y1="814.0" x2="494.9" y2="898.7" stroke="#d8d8d8" stroke-width="0.7"/>
<line x1="44.7" y1="892.2" x2="251.4" y2="791.4" stroke="#d8d8d8" stroke-width="0.7"/>
<line x1="251.4" y1="791.4" x2="495.2" y2="875.6" stroke="#d8d8d8" stroke-width="0.7"/>
<line x1="44.4" y1="868.9" x2="251.4" y2="768.6" stroke="#d8d8d8" stroke-width="0.7"/>
<line x1="251.4" y1="768.6" x2="495.5" y2="852.4" stroke="#d8d8d8" stroke-width="0.7"/>
<line x1="80.7" y1="944.1" x2="79.4" y2="828.6" stroke="#d8d8d8" stroke-width="0.7"/>
<line x1="80.7" y1="944.1" x2="325.2" y2="1033.7" stroke="#d8d8d8" stroke-width="0.7"/>
<line x1="150.0" y1="909.7" x2="149.2" y2="795.0" stroke="#d8d8d8" stroke-width="0.7"/>
<line x1="150.0" y1="909.7" x2="393.8" y2="997.6" stroke="#d8d8d8" stroke-width="0.7"/>
<line x1="218.0" y1="875.9" x2="217.6" y2="762.1" stroke="#d8d8d8" stroke-width="0.7"/>
<line x1="218.0" y1="875.9" x2="461.1" y2="962.2" stroke="#d8d8d8" stroke-width="0.7"/>
<line x1="281.2" y1="869.7" x2="281.3" y2="756.0" stroke="#d8d8d8" stroke-width="0.7"/>
<line x1="75.6" y1="972.6" x2="281.2" y2="869.7" stroke="#d8d8d8" stroke-width="0.7"/>
<line x1="341.2" y1="890.8" x2="341.7" y2="776.6" stroke="#d8d8d8" stroke-width="0.7"/>
<line x1="136.1" y1="994.9" x2="341.2" y2="890.8" stroke="#d8d8d8" stroke-width="0.7"/>
<line x1="401.9" y1="912.2" x2="402.8" y2="797.5" stroke="#d8d8d8" stroke-width="0.7"/>
<line x1="197.3" y1="1017.5" x2="401.9" y2="912.2" stroke="#d8d8d8" stroke-width="0.7"/>
<line x1="463.3" y1="933.8" x2="464.6" y2="818.5" stroke="#d8d8d8" stroke-width="0.7"/>
<line x1="259.2" y1="1040.4" x2="463.3" y2="933.8" stroke="#d8d8d8" stroke-width="0.7"/>
<line x1="45.6" y1="961.5" x2="251.5" y2="859.2" stroke="#d8d8d8" stroke-width="0.8"/>
<line x1="251.5" y1="859.2" x2="494.3" y2="944.7" stroke="#d8d8d8" stroke-width="0.8"/>
<line x1="44.1" y1="845.6" x2="251.4" y2="745.8" stroke="#a2a2a2" stroke-width="0.9"/>
<line x1="251.4" y1="745.8" x2="495.8" y2="829.2" stroke="#a2a2a2" stroke-width="0.9"/>
<line x1="251.5" y1="859.2" x2="251.4" y2="745.8" stroke="#a2a2a2" stroke-width="0.9"/>
<line x1="494.3" y1="944.7" x2="495.8" y2="829.2" stroke="#a2a2a2" stroke-width="0.9"/>
<polyline points="44.1,845.6 45.6,961.5 290.4,1052.0 494.3,944.7" fill="none" stroke="#383838" stroke-width="1.0" stroke-linejoin="miter"/>
<line x1="42.3" y1="961.5" x2="45.6" y2="961.5" stroke="#383838" stroke-width="1.0"/>
<text x="40.6" y="963.9" text-anchor="end" class="t">0.0</text>
<line x1="42.0" y1="938.5" x2="45.3" y2="938.5" stroke="#383838" stroke-width="1.0"/>
<text x="40.3" y="940.9" text-anchor="end" class="t">0.2</text>
<line x1="41.7" y1="915.4" x2="45.0" y2="915.4" stroke="#383838" stroke-width="1.0"/>
<text x="40.0" y="917.8" text-anchor="end" class="t">0.4</text>
<line x1="41.4" y1="892.2" x2="44.7" y2="892.2" stroke="#383838" stroke-width="1.0"/>
<text x="39.7" y="894.6" text-anchor="end" class="t">0.6</text>
<line x1="41.1" y1="868.9" x2="44.4" y2="868.9" stroke="#383838" stroke-width="1.0"/>
<text x="39.4" y="871.3" text-anchor="end" class="t">0.8</text>
<line x1="40.8" y1="845.6" x2="44.1" y2="845.6" stroke="#383838" stroke-width="1.0"/>
<text x="39.1" y="848.0" text-anchor="end" class="t">1.0</text>
<line x1="75.6" y1="972.6" x2="75.6" y2="976.2" stroke="#383838" stroke-width="1.0"/>
<text x="75.6" y="985.3" text-anchor="middle" class="t">XGB</text>
<line x1="136.1" y1="994.9" x2="136.1" y2="998.5" stroke="#383838" stroke-width="1.0"/>
<text x="136.1" y="1007.6" text-anchor="middle" class="t">RF</text>
<line x1="197.3" y1="1017.5" x2="197.3" y2="1021.1" stroke="#383838" stroke-width="1.0"/>
<text x="197.3" y="1030.2" text-anchor="middle" class="t">Catboost</text>
<line x1="259.2" y1="1040.4" x2="259.2" y2="1044.0" stroke="#383838" stroke-width="1.0"/>
<text x="259.2" y="1053.1" text-anchor="middle" class="t">LightGBM</text>
<line x1="325.2" y1="1033.7" x2="325.2" y2="1037.3" stroke="#383838" stroke-width="1.0"/>
<text x="325.5" y="1045.7" text-anchor="middle" class="t">1</text>
<line x1="393.8" y1="997.6" x2="393.8" y2="1001.2" stroke="#383838" stroke-width="1.0"/>
<text x="394.1" y="1009.6" text-anchor="middle" class="t">2</text>
<line x1="461.1" y1="962.2" x2="461.1" y2="965.8" stroke="#383838" stroke-width="1.0"/>
<text x="461.4" y="974.2" text-anchor="middle" class="t">3</text>
<g opacity="0.95"><polygon points="254.4,876.9 269.1,882.1 269.1,779.6 254.3,774.5" fill="#7bd59b" stroke="#3c7951" stroke-width="0.5" stroke-linejoin="round"/><polygon points="269.1,882.1 281.6,875.9 281.6,773.5 269.1,779.6" fill="#539b6b" stroke="#3c7951" stroke-width="0.5" stroke-linejoin="round"/><polygon points="254.3,774.5 269.1,779.6 281.6,773.5 266.8,768.4" fill="#5eab77" stroke="#3c7951" stroke-width="0.85" stroke-linejoin="round"/><polygon points="254.4,876.9 269.1,882.1 281.6,875.9 266.8,870.7" fill="#ffffff" opacity="0.11"/><polyline points="254.4,876.9 266.8,870.7 281.6,875.9" fill="none" stroke="#3c7951" stroke-width="0.4" opacity="0.3"/></g>
<text x="268.0" y="777.3" text-anchor="middle" class="v">0.9</text>
<g opacity="0.95"><polygon points="234.2,887.0 249.0,892.2 248.8,782.6 234.0,777.5" fill="#e7f1ab" stroke="#848a5c" stroke-width="0.5" stroke-linejoin="round"/><polygon points="249.0,892.2 261.5,886.0 261.4,776.5 248.8,782.6" fill="#a6ac77" stroke="#848a5c" stroke-width="0.5" stroke-linejoin="round"/><polygon points="234.0,777.5 248.8,782.6 261.4,776.5 246.6,771.4" fill="#b6bd83" stroke="#848a5c" stroke-width="0.85" stroke-linejoin="round"/><polygon points="234.2,887.0 249.0,892.2 261.5,886.0 246.7,880.7" fill="#ffffff" opacity="0.11"/><polyline points="234.2,887.0 246.7,880.7 261.5,886.0" fill="none" stroke="#848a5c" stroke-width="0.4" opacity="0.3"/></g>
<text x="247.7" y="780.3" text-anchor="middle" class="v">0.96</text>
<g opacity="0.95"><polygon points="213.9,897.1 228.7,902.4 228.4,787.9 213.5,782.8" fill="#ffb85c" stroke="#a0682c" stroke-width="0.5" stroke-linejoin="round"/><polygon points="228.7,902.4 241.3,896.1 241.1,781.8 228.4,787.9" fill="#c78842" stroke="#a0682c" stroke-width="0.5" stroke-linejoin="round"/><polygon points="213.5,782.8 228.4,787.9 241.1,781.8 226.2,776.6" fill="#d29349" stroke="#a0682c" stroke-width="0.85" stroke-linejoin="round"/><polygon points="213.9,897.1 228.7,902.4 241.3,896.1 226.5,890.8" fill="#ffffff" opacity="0.11"/><polyline points="213.9,897.1 226.5,890.8 241.3,896.1" fill="none" stroke="#a0682c" stroke-width="0.4" opacity="0.3"/></g>
<text x="227.3" y="785.6" text-anchor="middle" class="v">1</text>
<g opacity="0.95"><polygon points="186.7,910.7 201.5,916.0 201.1,818.5 186.2,813.3" fill="#7bd59b" stroke="#3c7951" stroke-width="0.5" stroke-linejoin="round"/><polygon points="201.5,916.0 214.2,909.7 213.8,812.3 201.1,818.5" fill="#539b6b" stroke="#3c7951" stroke-width="0.5" stroke-linejoin="round"/><polygon points="186.2,813.3 201.1,818.5 213.8,812.3 199.0,807.1" fill="#5eab77" stroke="#3c7951" stroke-width="0.85" stroke-linejoin="round"/><polygon points="186.7,910.7 201.5,916.0 214.2,909.7 199.4,904.4" fill="#ffffff" opacity="0.11"/><polyline points="186.7,910.7 199.4,904.4 214.2,909.7" fill="none" stroke="#3c7951" stroke-width="0.4" opacity="0.3"/></g>
<text x="200.0" y="816.1" text-anchor="middle" class="v">0.85</text>
<g opacity="0.95"><polygon points="166.2,921.0 181.0,926.3 180.4,817.1 165.5,811.8" fill="#e7f1ab" stroke="#848a5c" stroke-width="0.5" stroke-linejoin="round"/><polygon points="181.0,926.3 193.7,919.9 193.2,810.8 180.4,817.1" fill="#a6ac77" stroke="#848a5c" stroke-width="0.5" stroke-linejoin="round"/><polygon points="165.5,811.8 180.4,817.1 193.2,810.8 178.3,805.6" fill="#b6bd83" stroke="#848a5c" stroke-width="0.85" stroke-linejoin="round"/><polygon points="166.2,921.0 181.0,926.3 193.7,919.9 178.9,914.6" fill="#ffffff" opacity="0.11"/><polyline points="166.2,921.0 178.9,914.6 193.7,919.9" fill="none" stroke="#848a5c" stroke-width="0.4" opacity="0.3"/></g>
<text x="179.3" y="814.6" text-anchor="middle" class="v">0.95</text>
<g opacity="0.95"><polygon points="145.5,931.3 160.3,936.7 159.6,821.4 144.6,816.1" fill="#ffb85c" stroke="#a0682c" stroke-width="0.5" stroke-linejoin="round"/><polygon points="160.3,936.7 173.1,930.3 172.5,815.1 159.6,821.4" fill="#c78842" stroke="#a0682c" stroke-width="0.5" stroke-linejoin="round"/><polygon points="144.6,816.1 159.6,821.4 172.5,815.1 157.6,809.9" fill="#d29349" stroke="#a0682c" stroke-width="0.85" stroke-linejoin="round"/><polygon points="145.5,931.3 160.3,936.7 173.1,930.3 158.3,924.9" fill="#ffffff" opacity="0.11"/><polyline points="145.5,931.3 158.3,924.9 173.1,930.3" fill="none" stroke="#a0682c" stroke-width="0.4" opacity="0.3"/></g>
<text x="158.6" y="818.9" text-anchor="middle" class="v">1</text>
<g opacity="0.95"><polygon points="117.8,945.2 132.6,950.6 131.8,852.4 116.9,847.1" fill="#7bd59b" stroke="#3c7951" stroke-width="0.5" stroke-linejoin="round"/><polygon points="132.6,950.6 145.5,944.1 144.8,846.0 131.8,852.4" fill="#539b6b" stroke="#3c7951" stroke-width="0.5" stroke-linejoin="round"/><polygon points="116.9,847.1 131.8,852.4 144.8,846.0 129.9,840.7" fill="#5eab77" stroke="#3c7951" stroke-width="0.85" stroke-linejoin="round"/><polygon points="117.8,945.2 132.6,950.6 145.5,944.1 130.7,938.7" fill="#ffffff" opacity="0.11"/><polyline points="117.8,945.2 130.7,938.7 145.5,944.1" fill="none" stroke="#3c7951" stroke-width="0.4" opacity="0.3"/></g>
<text x="130.8" y="849.8" text-anchor="middle" class="v">0.85</text>
<g opacity="0.95"><polygon points="96.8,955.6 111.7,961.1 110.6,851.0 95.7,845.7" fill="#e7f1ab" stroke="#848a5c" stroke-width="0.5" stroke-linejoin="round"/><polygon points="111.7,961.1 124.7,954.6 123.7,844.6 110.6,851.0" fill="#a6ac77" stroke="#848a5c" stroke-width="0.5" stroke-linejoin="round"/><polygon points="95.7,845.7 110.6,851.0 123.7,844.6 108.8,839.3" fill="#b6bd83" stroke="#848a5c" stroke-width="0.85" stroke-linejoin="round"/><polygon points="96.8,955.6 111.7,961.1 124.7,954.6 109.8,949.1" fill="#ffffff" opacity="0.11"/><polyline points="96.8,955.6 109.8,949.1 124.7,954.6" fill="none" stroke="#848a5c" stroke-width="0.4" opacity="0.3"/></g>
<text x="109.7" y="848.4" text-anchor="middle" class="v">0.95</text>
<g opacity="0.95"><polygon points="75.8,966.1 90.6,971.6 89.4,855.4 74.5,850.1" fill="#ffb85c" stroke="#a0682c" stroke-width="0.5" stroke-linejoin="round"/><polygon points="90.6,971.6 103.7,965.1 102.5,849.0 89.4,855.4" fill="#c78842" stroke="#a0682c" stroke-width="0.5" stroke-linejoin="round"/><polygon points="74.5,850.1 89.4,855.4 102.5,849.0 87.6,843.7" fill="#d29349" stroke="#a0682c" stroke-width="0.85" stroke-linejoin="round"/><polygon points="75.8,966.1 90.6,971.6 103.7,965.1 88.9,959.6" fill="#ffffff" opacity="0.11"/><polyline points="75.8,966.1 88.9,959.6 103.7,965.1" fill="none" stroke="#a0682c" stroke-width="0.4" opacity="0.3"/></g>
<text x="88.5" y="852.9" text-anchor="middle" class="v">1</text>
<g opacity="0.95"><polygon points="314.3,898.1 329.2,903.4 329.6,802.7 314.6,797.6" fill="#7bd59b" stroke="#3c7951" stroke-width="0.5" stroke-linejoin="round"/><polygon points="329.2,903.4 341.7,897.1 342.1,796.5 329.6,802.7" fill="#539b6b" stroke="#3c7951" stroke-width="0.5" stroke-linejoin="round"/><polygon points="314.6,797.6 329.6,802.7 342.1,796.5 327.1,791.4" fill="#5eab77" stroke="#3c7951" stroke-width="0.85" stroke-linejoin="round"/><polygon points="314.3,898.1 329.2,903.4 341.7,897.1 326.7,891.8" fill="#ffffff" opacity="0.11"/><polyline points="314.3,898.1 326.7,891.8 341.7,897.1" fill="none" stroke="#3c7951" stroke-width="0.4" opacity="0.3"/></g>
<text x="328.3" y="800.3" text-anchor="middle" class="v">0.88</text>
<g opacity="0.95"><polygon points="294.2,908.3 309.1,913.6 309.4,804.6 294.4,799.5" fill="#e7f1ab" stroke="#848a5c" stroke-width="0.5" stroke-linejoin="round"/><polygon points="309.1,913.6 321.6,907.3 321.9,798.4 309.4,804.6" fill="#a6ac77" stroke="#848a5c" stroke-width="0.5" stroke-linejoin="round"/><polygon points="294.4,799.5 309.4,804.6 321.9,798.4 306.9,793.3" fill="#b6bd83" stroke="#848a5c" stroke-width="0.85" stroke-linejoin="round"/><polygon points="294.2,908.3 309.1,913.6 321.6,907.3 306.7,902.0" fill="#ffffff" opacity="0.11"/><polyline points="294.2,908.3 306.7,902.0 321.6,907.3" fill="none" stroke="#848a5c" stroke-width="0.4" opacity="0.3"/></g>
<text x="308.2" y="802.3" text-anchor="middle" class="v">0.95</text>
<g opacity="0.95"><polygon points="274.0,918.6 288.9,923.9 289.0,808.9 274.0,803.7" fill="#ffb85c" stroke="#a0682c" stroke-width="0.5" stroke-linejoin="round"/><polygon points="288.9,923.9 301.5,917.5 301.7,802.7 289.0,808.9" fill="#c78842" stroke="#a0682c" stroke-width="0.5" stroke-linejoin="round"/><polygon points="274.0,803.7 289.0,808.9 301.7,802.7 286.6,797.5" fill="#d29349" stroke="#a0682c" stroke-width="0.85" stroke-linejoin="round"/><polygon points="274.0,918.6 288.9,923.9 301.5,917.5 286.5,912.2" fill="#ffffff" opacity="0.11"/><polyline points="274.0,918.6 286.5,912.2 301.5,917.5" fill="none" stroke="#a0682c" stroke-width="0.4" opacity="0.3"/></g>
<text x="287.8" y="806.5" text-anchor="middle" class="v">1</text>
<g opacity="0.95"><polygon points="246.8,932.3 261.8,937.7 261.7,843.2 246.7,838.0" fill="#7bd59b" stroke="#3c7951" stroke-width="0.5" stroke-linejoin="round"/><polygon points="261.8,937.7 274.4,931.3 274.4,836.9 261.7,843.2" fill="#539b6b" stroke="#3c7951" stroke-width="0.5" stroke-linejoin="round"/><polygon points="246.7,838.0 261.7,843.2 274.4,836.9 259.4,831.7" fill="#5eab77" stroke="#3c7951" stroke-width="0.85" stroke-linejoin="round"/><polygon points="246.8,932.3 261.8,937.7 274.4,931.3 259.5,925.9" fill="#ffffff" opacity="0.11"/><polyline points="246.8,932.3 259.5,925.9 274.4,931.3" fill="none" stroke="#3c7951" stroke-width="0.4" opacity="0.3"/></g>
<text x="260.6" y="840.8" text-anchor="middle" class="v">0.82</text>
<g opacity="0.95"><polygon points="226.3,942.7 241.3,948.1 241.1,838.3 226.0,833.1" fill="#e7f1ab" stroke="#848a5c" stroke-width="0.5" stroke-linejoin="round"/><polygon points="241.3,948.1 254.0,941.7 253.9,832.0 241.1,838.3" fill="#a6ac77" stroke="#848a5c" stroke-width="0.5" stroke-linejoin="round"/><polygon points="226.0,833.1 241.1,838.3 253.9,832.0 238.8,826.8" fill="#b6bd83" stroke="#848a5c" stroke-width="0.85" stroke-linejoin="round"/><polygon points="226.3,942.7 241.3,948.1 254.0,941.7 239.0,936.3" fill="#ffffff" opacity="0.11"/><polyline points="226.3,942.7 239.0,936.3 254.0,941.7" fill="none" stroke="#848a5c" stroke-width="0.4" opacity="0.3"/></g>
<text x="240.0" y="835.8" text-anchor="middle" class="v">0.95</text>
<g opacity="0.95"><polygon points="205.7,953.2 220.7,958.6 220.4,842.7 205.3,837.4" fill="#ffb85c" stroke="#a0682c" stroke-width="0.5" stroke-linejoin="round"/><polygon points="220.7,958.6 233.5,952.1 233.2,836.4 220.4,842.7" fill="#c78842" stroke="#a0682c" stroke-width="0.5" stroke-linejoin="round"/><polygon points="205.3,837.4 220.4,842.7 233.2,836.4 218.1,831.1" fill="#d29349" stroke="#a0682c" stroke-width="0.85" stroke-linejoin="round"/><polygon points="205.7,953.2 220.7,958.6 233.5,952.1 218.5,946.7" fill="#ffffff" opacity="0.11"/><polyline points="205.7,953.2 218.5,946.7 233.5,952.1" fill="none" stroke="#a0682c" stroke-width="0.4" opacity="0.3"/></g>
<text x="219.2" y="840.2" text-anchor="middle" class="v">1</text>
<g opacity="0.95"><polygon points="178.0,967.2 193.0,972.6 192.7,895.0 177.6,889.6" fill="#7bd59b" stroke="#3c7951" stroke-width="0.5" stroke-linejoin="round"/><polygon points="193.0,972.6 205.9,966.1 205.6,888.5 192.7,895.0" fill="#539b6b" stroke="#3c7951" stroke-width="0.5" stroke-linejoin="round"/><polygon points="177.6,889.6 192.7,895.0 205.6,888.5 190.6,883.2" fill="#5eab77" stroke="#3c7951" stroke-width="0.85" stroke-linejoin="round"/><polygon points="178.0,967.2 193.0,972.6 205.9,966.1 190.9,960.6" fill="#ffffff" opacity="0.11"/><polyline points="178.0,967.2 190.9,960.6 205.9,966.1" fill="none" stroke="#3c7951" stroke-width="0.4" opacity="0.3"/></g>
<text x="191.6" y="892.4" text-anchor="middle" class="v">0.67</text>
<g opacity="0.95"><polygon points="157.2,977.8 172.2,983.3 171.5,876.2 156.4,870.8" fill="#e7f1ab" stroke="#848a5c" stroke-width="0.5" stroke-linejoin="round"/><polygon points="172.2,983.3 185.1,976.7 184.6,869.7 171.5,876.2" fill="#a6ac77" stroke="#848a5c" stroke-width="0.5" stroke-linejoin="round"/><polygon points="156.4,870.8 171.5,876.2 184.6,869.7 169.5,864.4" fill="#b6bd83" stroke="#848a5c" stroke-width="0.85" stroke-linejoin="round"/><polygon points="157.2,977.8 172.2,983.3 185.1,976.7 170.1,971.2" fill="#ffffff" opacity="0.11"/><polyline points="157.2,977.8 170.1,971.2 185.1,976.7" fill="none" stroke="#848a5c" stroke-width="0.4" opacity="0.3"/></g>
<text x="170.5" y="873.6" text-anchor="middle" class="v">0.92</text>
<g opacity="0.95"><polygon points="136.2,988.4 151.2,993.9 150.4,878.4 135.2,873.0" fill="#ffb85c" stroke="#a0682c" stroke-width="0.5" stroke-linejoin="round"/><polygon points="151.2,993.9 164.2,987.3 163.5,871.9 150.4,878.4" fill="#c78842" stroke="#a0682c" stroke-width="0.5" stroke-linejoin="round"/><polygon points="135.2,873.0 150.4,878.4 163.5,871.9 148.4,866.5" fill="#d29349" stroke="#a0682c" stroke-width="0.85" stroke-linejoin="round"/><polygon points="136.2,988.4 151.2,993.9 164.2,987.3 149.2,981.8" fill="#ffffff" opacity="0.11"/><polyline points="136.2,988.4 149.2,981.8 164.2,987.3" fill="none" stroke="#a0682c" stroke-width="0.4" opacity="0.3"/></g>
<text x="149.4" y="875.8" text-anchor="middle" class="v">0.99</text>
<g opacity="0.95"><polygon points="375.0,919.6 390.1,924.9 390.9,813.4 375.7,808.1" fill="#7bd59b" stroke="#3c7951" stroke-width="0.5" stroke-linejoin="round"/><polygon points="390.1,924.9 402.5,918.5 403.3,807.1 390.9,813.4" fill="#539b6b" stroke="#3c7951" stroke-width="0.5" stroke-linejoin="round"/><polygon points="375.7,808.1 390.9,813.4 403.3,807.1 388.1,801.9" fill="#5eab77" stroke="#3c7951" stroke-width="0.85" stroke-linejoin="round"/><polygon points="375.0,919.6 390.1,924.9 402.5,918.5 387.4,913.2" fill="#ffffff" opacity="0.11"/><polyline points="375.0,919.6 387.4,913.2 402.5,918.5" fill="none" stroke="#3c7951" stroke-width="0.4" opacity="0.3"/></g>
<text x="389.5" y="810.9" text-anchor="middle" class="v">0.97</text>
<g opacity="0.95"><polygon points="354.9,929.9 370.0,935.3 370.7,821.1 355.5,815.9" fill="#e7f1ab" stroke="#848a5c" stroke-width="0.5" stroke-linejoin="round"/><polygon points="370.0,935.3 382.5,928.8 383.2,814.9 370.7,821.1" fill="#a6ac77" stroke="#848a5c" stroke-width="0.5" stroke-linejoin="round"/><polygon points="355.5,815.9 370.7,821.1 383.2,814.9 368.0,809.6" fill="#b6bd83" stroke="#848a5c" stroke-width="0.85" stroke-linejoin="round"/><polygon points="354.9,929.9 370.0,935.3 382.5,928.8 367.4,923.5" fill="#ffffff" opacity="0.11"/><polyline points="354.9,929.9 367.4,923.5 382.5,928.8" fill="none" stroke="#848a5c" stroke-width="0.4" opacity="0.3"/></g>
<text x="369.4" y="818.7" text-anchor="middle" class="v">0.99</text>
<g opacity="0.95"><polygon points="334.7,940.3 349.8,945.7 350.4,830.1 335.2,824.9" fill="#ffb85c" stroke="#a0682c" stroke-width="0.5" stroke-linejoin="round"/><polygon points="349.8,945.7 362.4,939.2 363.0,823.8 350.4,830.1" fill="#c78842" stroke="#a0682c" stroke-width="0.5" stroke-linejoin="round"/><polygon points="335.2,824.9 350.4,830.1 363.0,823.8 347.8,818.6" fill="#d29349" stroke="#a0682c" stroke-width="0.85" stroke-linejoin="round"/><polygon points="334.7,940.3 349.8,945.7 362.4,939.2 347.3,933.8" fill="#ffffff" opacity="0.11"/><polyline points="334.7,940.3 347.3,933.8 362.4,939.2" fill="none" stroke="#a0682c" stroke-width="0.4" opacity="0.3"/></g>
<text x="349.1" y="827.6" text-anchor="middle" class="v">1</text>
<g opacity="0.95"><polygon points="307.6,954.2 322.8,959.6 323.1,843.7 307.9,838.4" fill="#7bd59b" stroke="#3c7951" stroke-width="0.5" stroke-linejoin="round"/><polygon points="322.8,959.6 335.4,953.1 335.8,837.4 323.1,843.7" fill="#539b6b" stroke="#3c7951" stroke-width="0.5" stroke-linejoin="round"/><polygon points="307.9,838.4 323.1,843.7 335.8,837.4 320.6,832.1" fill="#5eab77" stroke="#3c7951" stroke-width="0.85" stroke-linejoin="round"/><polygon points="307.6,954.2 322.8,959.6 335.4,953.1 320.3,947.7" fill="#ffffff" opacity="0.11"/><polyline points="307.6,954.2 320.3,947.7 335.4,953.1" fill="none" stroke="#3c7951" stroke-width="0.4" opacity="0.3"/></g>
<text x="321.9" y="841.2" text-anchor="middle" class="v">1</text>
<g opacity="0.95"><polygon points="287.2,964.7 302.3,970.2 302.6,854.0 287.3,848.7" fill="#e7f1ab" stroke="#848a5c" stroke-width="0.5" stroke-linejoin="round"/><polygon points="302.3,970.2 315.0,963.6 315.3,847.6 302.6,854.0" fill="#a6ac77" stroke="#848a5c" stroke-width="0.5" stroke-linejoin="round"/><polygon points="287.3,848.7 302.6,854.0 315.3,847.6 300.1,842.3" fill="#b6bd83" stroke="#848a5c" stroke-width="0.85" stroke-linejoin="round"/><polygon points="287.2,964.7 302.3,970.2 315.0,963.6 299.9,958.2" fill="#ffffff" opacity="0.11"/><polyline points="287.2,964.7 299.9,958.2 315.0,963.6" fill="none" stroke="#848a5c" stroke-width="0.4" opacity="0.3"/></g>
<text x="301.3" y="851.5" text-anchor="middle" class="v">1</text>
<g opacity="0.95"><polygon points="266.6,975.3 281.8,980.8 281.9,864.4 266.6,859.0" fill="#ffb85c" stroke="#a0682c" stroke-width="0.5" stroke-linejoin="round"/><polygon points="281.8,980.8 294.5,974.2 294.7,857.9 281.9,864.4" fill="#c78842" stroke="#a0682c" stroke-width="0.5" stroke-linejoin="round"/><polygon points="266.6,859.0 281.9,864.4 294.7,857.9 279.5,852.6" fill="#d29349" stroke="#a0682c" stroke-width="0.85" stroke-linejoin="round"/><polygon points="266.6,975.3 281.8,980.8 294.5,974.2 279.4,968.7" fill="#ffffff" opacity="0.11"/><polyline points="266.6,975.3 279.4,968.7 294.5,974.2" fill="none" stroke="#a0682c" stroke-width="0.4" opacity="0.3"/></g>
<text x="280.7" y="861.8" text-anchor="middle" class="v">1</text>
<g opacity="0.95"><polygon points="239.0,989.4 254.2,995.0 254.1,886.5 238.8,881.0" fill="#7bd59b" stroke="#3c7951" stroke-width="0.5" stroke-linejoin="round"/><polygon points="254.2,995.0 267.1,988.4 267.0,880.0 254.1,886.5" fill="#539b6b" stroke="#3c7951" stroke-width="0.5" stroke-linejoin="round"/><polygon points="238.8,881.0 254.1,886.5 267.0,880.0 251.8,874.6" fill="#5eab77" stroke="#3c7951" stroke-width="0.85" stroke-linejoin="round"/><polygon points="239.0,989.4 254.2,995.0 267.1,988.4 251.9,982.8" fill="#ffffff" opacity="0.11"/><polyline points="239.0,989.4 251.9,982.8 267.1,988.4" fill="none" stroke="#3c7951" stroke-width="0.4" opacity="0.3"/></g>
<text x="252.9" y="883.8" text-anchor="middle" class="v">0.93</text>
<g opacity="0.95"><polygon points="218.2,1000.1 233.4,1005.7 233.1,891.1 217.8,885.6" fill="#e7f1ab" stroke="#848a5c" stroke-width="0.5" stroke-linejoin="round"/><polygon points="233.4,1005.7 246.3,999.1 246.2,884.6 233.1,891.1" fill="#a6ac77" stroke="#848a5c" stroke-width="0.5" stroke-linejoin="round"/><polygon points="217.8,885.6 233.1,891.1 246.2,884.6 230.9,879.1" fill="#b6bd83" stroke="#848a5c" stroke-width="0.85" stroke-linejoin="round"/><polygon points="218.2,1000.1 233.4,1005.7 246.3,999.1 231.1,993.5" fill="#ffffff" opacity="0.11"/><polyline points="218.2,1000.1 231.1,993.5 246.3,999.1" fill="none" stroke="#848a5c" stroke-width="0.4" opacity="0.3"/></g>
<text x="232.0" y="888.4" text-anchor="middle" class="v">0.98</text>
<g opacity="0.95"><polygon points="197.2,1010.9 212.4,1016.5 212.0,899.3 196.7,893.8" fill="#ffb85c" stroke="#a0682c" stroke-width="0.5" stroke-linejoin="round"/><polygon points="212.4,1016.5 225.4,1009.8 225.1,892.7 212.0,899.3" fill="#c78842" stroke="#a0682c" stroke-width="0.5" stroke-linejoin="round"/><polygon points="196.7,893.8 212.0,899.3 225.1,892.7 209.8,887.3" fill="#d29349" stroke="#a0682c" stroke-width="0.85" stroke-linejoin="round"/><polygon points="197.2,1010.9 212.4,1016.5 225.4,1009.8 210.3,1004.2" fill="#ffffff" opacity="0.11"/><polyline points="197.2,1010.9 210.3,1004.2 225.4,1009.8" fill="none" stroke="#a0682c" stroke-width="0.4" opacity="0.3"/></g>
<text x="210.9" y="896.6" text-anchor="middle" class="v">1</text>
<g opacity="0.95"><polygon points="436.4,941.3 451.6,946.7 452.7,842.7 437.4,837.5" fill="#7bd59b" stroke="#3c7951" stroke-width="0.5" stroke-linejoin="round"/><polygon points="451.6,946.7 464.0,940.2 465.2,836.4 452.7,842.7" fill="#539b6b" stroke="#3c7951" stroke-width="0.5" stroke-linejoin="round"/><polygon points="437.4,837.5 452.7,842.7 465.2,836.4 449.8,831.2" fill="#5eab77" stroke="#3c7951" stroke-width="0.85" stroke-linejoin="round"/><polygon points="436.4,941.3 451.6,946.7 464.0,940.2 448.7,934.8" fill="#ffffff" opacity="0.11"/><polyline points="436.4,941.3 448.7,934.8 464.0,940.2" fill="none" stroke="#3c7951" stroke-width="0.4" opacity="0.3"/></g>
<text x="451.3" y="840.2" text-anchor="middle" class="v">0.9</text>
<g opacity="0.95"><polygon points="416.3,951.7 431.6,957.2 432.7,846.0 417.3,840.7" fill="#e7f1ab" stroke="#848a5c" stroke-width="0.5" stroke-linejoin="round"/><polygon points="431.6,957.2 444.0,950.7 445.2,839.6 432.7,846.0" fill="#a6ac77" stroke="#848a5c" stroke-width="0.5" stroke-linejoin="round"/><polygon points="417.3,840.7 432.7,846.0 445.2,839.6 429.8,834.4" fill="#b6bd83" stroke="#848a5c" stroke-width="0.85" stroke-linejoin="round"/><polygon points="416.3,951.7 431.6,957.2 444.0,950.7 428.8,945.2" fill="#ffffff" opacity="0.11"/><polyline points="416.3,951.7 428.8,945.2 444.0,950.7" fill="none" stroke="#848a5c" stroke-width="0.4" opacity="0.3"/></g>
<text x="431.2" y="843.5" text-anchor="middle" class="v">0.96</text>
<g opacity="0.95"><polygon points="396.2,962.2 411.5,967.7 412.5,851.6 397.1,846.3" fill="#ffb85c" stroke="#a0682c" stroke-width="0.5" stroke-linejoin="round"/><polygon points="411.5,967.7 424.0,961.1 425.0,845.2 412.5,851.6" fill="#c78842" stroke="#a0682c" stroke-width="0.5" stroke-linejoin="round"/><polygon points="397.1,846.3 412.5,851.6 425.0,845.2 409.6,839.9" fill="#d29349" stroke="#a0682c" stroke-width="0.85" stroke-linejoin="round"/><polygon points="396.2,962.2 411.5,967.7 424.0,961.1 408.7,955.7" fill="#ffffff" opacity="0.11"/><polyline points="396.2,962.2 408.7,955.7 424.0,961.1" fill="none" stroke="#a0682c" stroke-width="0.4" opacity="0.3"/></g>
<text x="411.1" y="849.0" text-anchor="middle" class="v">1</text>
<g opacity="0.95"><polygon points="369.2,976.3 384.5,981.8 385.2,873.6 369.8,868.2" fill="#7bd59b" stroke="#3c7951" stroke-width="0.5" stroke-linejoin="round"/><polygon points="384.5,981.8 397.1,975.2 397.9,867.1 385.2,873.6" fill="#539b6b" stroke="#3c7951" stroke-width="0.5" stroke-linejoin="round"/><polygon points="369.8,868.2 385.2,873.6 397.9,867.1 382.5,861.8" fill="#5eab77" stroke="#3c7951" stroke-width="0.85" stroke-linejoin="round"/><polygon points="369.2,976.3 384.5,981.8 397.1,975.2 381.8,969.7" fill="#ffffff" opacity="0.11"/><polyline points="369.2,976.3 381.8,969.7 397.1,975.2" fill="none" stroke="#3c7951" stroke-width="0.4" opacity="0.3"/></g>
<text x="383.9" y="871.0" text-anchor="middle" class="v">0.93</text>
<g opacity="0.95"><polygon points="348.8,986.9 364.1,992.5 364.8,878.1 349.3,872.7" fill="#e7f1ab" stroke="#848a5c" stroke-width="0.5" stroke-linejoin="round"/><polygon points="364.1,992.5 376.8,985.8 377.5,871.7 364.8,878.1" fill="#a6ac77" stroke="#848a5c" stroke-width="0.5" stroke-linejoin="round"/><polygon points="349.3,872.7 364.8,878.1 377.5,871.7 362.1,866.3" fill="#b6bd83" stroke="#848a5c" stroke-width="0.85" stroke-linejoin="round"/><polygon points="348.8,986.9 364.1,992.5 376.8,985.8 361.5,980.3" fill="#ffffff" opacity="0.11"/><polyline points="348.8,986.9 361.5,980.3 376.8,985.8" fill="none" stroke="#848a5c" stroke-width="0.4" opacity="0.3"/></g>
<text x="363.4" y="875.5" text-anchor="middle" class="v">0.98</text>
<g opacity="0.95"><polygon points="328.3,997.6 343.6,1003.2 344.1,886.2 328.7,880.8" fill="#ffb85c" stroke="#a0682c" stroke-width="0.5" stroke-linejoin="round"/><polygon points="343.6,1003.2 356.3,996.5 356.9,879.8 344.1,886.2" fill="#c78842" stroke="#a0682c" stroke-width="0.5" stroke-linejoin="round"/><polygon points="328.7,880.8 344.1,886.2 356.9,879.8 341.5,874.3" fill="#d29349" stroke="#a0682c" stroke-width="0.85" stroke-linejoin="round"/><polygon points="328.3,997.6 343.6,1003.2 356.3,996.5 341.0,991.0" fill="#ffffff" opacity="0.11"/><polyline points="328.3,997.6 341.0,991.0 356.3,996.5" fill="none" stroke="#a0682c" stroke-width="0.4" opacity="0.3"/></g>
<text x="342.8" y="883.6" text-anchor="middle" class="v">1</text>
<g opacity="0.95"><polygon points="300.8,1012.0 316.1,1017.6 316.4,923.9 300.9,918.4" fill="#7bd59b" stroke="#3c7951" stroke-width="0.5" stroke-linejoin="round"/><polygon points="316.1,1017.6 328.9,1010.9 329.3,917.3 316.4,923.9" fill="#539b6b" stroke="#3c7951" stroke-width="0.5" stroke-linejoin="round"/><polygon points="300.9,918.4 316.4,923.9 329.3,917.3 313.8,911.8" fill="#5eab77" stroke="#3c7951" stroke-width="0.85" stroke-linejoin="round"/><polygon points="300.8,1012.0 316.1,1017.6 328.9,1010.9 313.6,1005.3" fill="#ffffff" opacity="0.11"/><polyline points="300.8,1012.0 313.6,1005.3 328.9,1010.9" fill="none" stroke="#3c7951" stroke-width="0.4" opacity="0.3"/></g>
<text x="315.1" y="921.1" text-anchor="middle" class="v">0.8</text>
<g opacity="0.95"><polygon points="280.0,1022.8 295.3,1028.4 295.5,916.8 280.0,911.3" fill="#e7f1ab" stroke="#848a5c" stroke-width="0.5" stroke-linejoin="round"/><polygon points="295.3,1028.4 308.2,1021.7 308.5,910.2 295.5,916.8" fill="#a6ac77" stroke="#848a5c" stroke-width="0.5" stroke-linejoin="round"/><polygon points="280.0,911.3 295.5,916.8 308.5,910.2 293.0,904.7" fill="#b6bd83" stroke="#848a5c" stroke-width="0.85" stroke-linejoin="round"/><polygon points="280.0,1022.8 295.3,1028.4 308.2,1021.7 292.9,1016.1" fill="#ffffff" opacity="0.11"/><polyline points="280.0,1022.8 292.9,1016.1 308.2,1021.7" fill="none" stroke="#848a5c" stroke-width="0.4" opacity="0.3"/></g>
<text x="294.3" y="914.1" text-anchor="middle" class="v">0.95</text>
<g opacity="0.95"><polygon points="259.1,1033.7 274.5,1039.4 274.5,922.8 259.0,917.2" fill="#ffb85c" stroke="#a0682c" stroke-width="0.5" stroke-linejoin="round"/><polygon points="274.5,1039.4 287.4,1032.6 287.5,916.1 274.5,922.8" fill="#c78842" stroke="#a0682c" stroke-width="0.5" stroke-linejoin="round"/><polygon points="259.0,917.2 274.5,922.8 287.5,916.1 272.1,910.6" fill="#d29349" stroke="#a0682c" stroke-width="0.85" stroke-linejoin="round"/><polygon points="259.1,1033.7 274.5,1039.4 287.4,1032.6 272.0,1026.9" fill="#ffffff" opacity="0.11"/><polyline points="259.1,1033.7 272.0,1026.9 287.4,1032.6" fill="none" stroke="#a0682c" stroke-width="0.4" opacity="0.3"/></g>
<text x="273.3" y="920.0" text-anchor="middle" class="v">0.99</text>
<text transform="translate(22.8,903.5) rotate(-90)" text-anchor="middle" class="a">F1-score</text>
<text transform="translate(158.3,1043.1) rotate(35.5)" text-anchor="middle" class="a">Model type</text>
<text transform="translate(402.1,1032.0) rotate(-32)" text-anchor="middle" class="a">Unbalanced data handling methods</text>
<text x="36.4" y="757.6" class="g2">(c)</text>
<rect x="355.9" y="739.9" width="29.9" height="10.6" fill="#ffb052"/>
<text x="392.1" y="749.5" class="l">III</text>
<rect x="355.9" y="753.0" width="29.9" height="10.6" fill="#e9f2ac"/>
<text x="392.1" y="762.5" class="l">IV</text>
<rect x="355.9" y="766.0" width="29.9" height="10.6" fill="#87d192"/>
<text x="394.7" y="775.5" class="l">V</text>
</g>
</svg></body></html>
